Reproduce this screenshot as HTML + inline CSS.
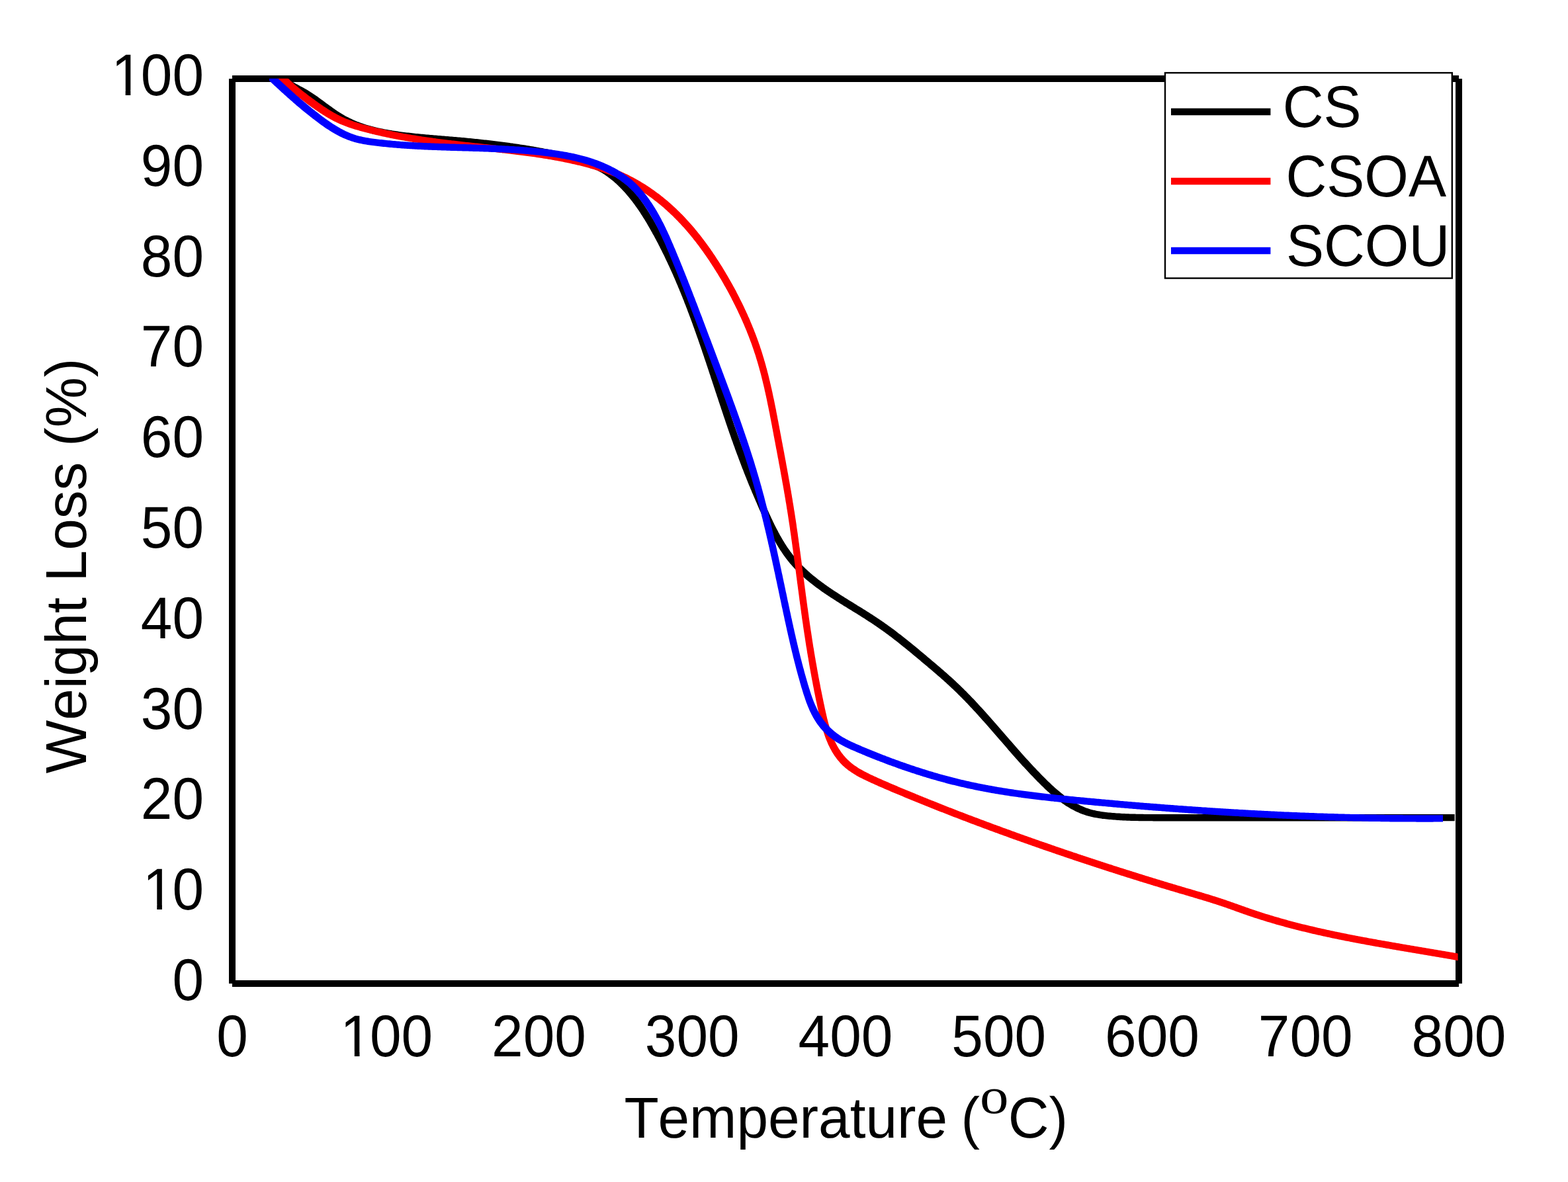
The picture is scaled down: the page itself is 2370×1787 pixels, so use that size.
<!DOCTYPE html>
<html lang="en"><head><meta charset="utf-8"><title>TGA: Weight Loss vs Temperature</title>
<style>html,body{margin:0;padding:0;background:#fff}svg{display:block}</style></head>
<body>
<svg xmlns="http://www.w3.org/2000/svg" width="2370" height="1787" viewBox="0 0 2370 1787" font-family="'Liberation Sans', Arial, Helvetica, sans-serif" fill="#000" style="font-kerning:none;font-variant-ligatures:none;text-rendering:geometricPrecision">
<rect width="2370" height="1787" fill="#fff"/>
<defs><clipPath id="one-end-3"><rect x="-148.82" y="-85.60" width="56.61" height="78.31"/><rect x="-118.34" y="-7.59" width="7.67" height="9.39"/><rect x="-93.71" y="-85.60" width="152.82" height="119.84"/></clipPath><clipPath id="one-end-2"><rect x="-101.21" y="-85.60" width="56.61" height="78.31"/><rect x="-70.74" y="-7.59" width="7.67" height="9.39"/><rect x="-46.11" y="-85.60" width="105.21" height="119.84"/></clipPath><clipPath id="one-middle-3"><rect x="-77.41" y="-85.60" width="56.61" height="78.31"/><rect x="-46.93" y="-7.59" width="7.67" height="9.39"/><rect x="-22.30" y="-85.60" width="152.82" height="119.84"/></clipPath></defs>
<defs><clipPath id="plot"><rect x="351" y="119" width="1854" height="1368"/></clipPath></defs>
<g stroke="#000" stroke-width="10" fill="none" shape-rendering="crispEdges"><line x1="351" y1="119" x2="351" y2="1487"/><line x1="351" y1="1487" x2="2205" y2="1487"/><line x1="2205" y1="119" x2="2205" y2="1487"/><line x1="351" y1="119" x2="2205" y2="119"/></g>
<defs><clipPath id="ck"><rect x="407.0" y="118.8" width="1791.6999999999998" height="1368"/></clipPath><clipPath id="cr"><rect x="407.0" y="118.8" width="1796.6" height="1368"/></clipPath><clipPath id="cb"><rect x="407.0" y="118.8" width="1774.0" height="1368"/></clipPath></defs>
<path clip-path="url(#ck)" fill="#000" d="M415.7,115.9 L417.2,117.7 L418.7,119.3 L420.2,120.9 L421.8,122.4 L423.4,123.9 L425.1,125.3 L426.7,126.6 L428.4,127.9 L430.1,129.1 L431.9,130.3 L433.6,131.4 L435.3,132.5 L437.1,133.6 L438.9,134.6 L440.6,135.7 L442.4,136.6 L444.1,137.6 L445.9,138.6 L447.6,139.5 L449.4,140.5 L451.1,141.4 L452.8,142.4 L454.5,143.3 L456.2,144.3 L457.9,145.3 L459.5,146.3 L461.1,147.3 L462.8,148.3 L464.4,149.4 L466.0,150.5 L467.6,151.6 L469.3,152.7 L470.9,153.8 L472.5,154.9 L474.1,156.1 L475.7,157.2 L477.3,158.4 L478.9,159.6 L480.6,160.8 L482.2,162.0 L483.8,163.2 L485.4,164.4 L487.0,165.6 L488.7,166.8 L490.3,168.0 L492.0,169.2 L493.6,170.4 L495.3,171.5 L496.9,172.7 L498.6,173.9 L500.3,175.0 L502.0,176.2 L503.7,177.3 L505.4,178.4 L507.2,179.5 L508.9,180.6 L510.7,181.7 L512.4,182.7 L514.2,183.7 L516.0,184.7 L517.9,185.7 L519.7,186.6 L521.5,187.6 L523.4,188.4 L525.2,189.3 L527.1,190.2 L528.9,191.0 L530.8,191.8 L532.7,192.6 L534.6,193.3 L536.5,194.1 L538.4,194.8 L540.3,195.5 L542.3,196.1 L544.2,196.8 L546.1,197.4 L548.1,198.0 L550.0,198.6 L552.0,199.2 L553.9,199.8 L555.9,200.3 L557.9,200.9 L559.8,201.4 L561.8,201.9 L563.8,202.4 L565.8,202.8 L567.8,203.3 L569.8,203.7 L571.8,204.2 L573.7,204.6 L575.7,205.0 L577.8,205.4 L579.8,205.8 L581.8,206.1 L583.8,206.5 L585.8,206.8 L587.8,207.2 L589.8,207.5 L591.8,207.8 L593.8,208.1 L595.8,208.4 L597.9,208.7 L599.9,209.0 L601.9,209.3 L603.9,209.5 L605.9,209.8 L607.9,210.0 L609.9,210.3 L611.9,210.5 L613.9,210.8 L616.0,211.0 L618.0,211.2 L620.0,211.5 L622.0,211.7 L624.0,211.9 L626.0,212.1 L628.0,212.3 L630.0,212.5 L632.0,212.7 L634.0,212.9 L636.0,213.1 L638.0,213.2 L640.0,213.4 L642.0,213.6 L644.0,213.8 L646.0,213.9 L648.0,214.1 L650.0,214.3 L652.0,214.5 L654.0,214.6 L656.0,214.8 L657.9,214.9 L659.9,215.1 L661.9,215.3 L663.9,215.4 L665.9,215.6 L667.9,215.8 L669.9,215.9 L671.9,216.1 L673.9,216.3 L675.9,216.4 L677.8,216.6 L679.8,216.8 L681.8,216.9 L683.8,217.1 L685.8,217.3 L687.8,217.4 L689.7,217.6 L691.7,217.8 L693.7,218.0 L695.7,218.1 L697.7,218.3 L699.7,218.5 L701.6,218.7 L703.6,218.9 L705.6,219.1 L707.6,219.3 L709.6,219.5 L711.6,219.7 L713.5,219.9 L715.5,220.1 L717.5,220.3 L719.5,220.5 L721.5,220.7 L723.4,220.9 L725.4,221.1 L727.4,221.3 L729.4,221.5 L731.4,221.8 L733.3,222.0 L735.3,222.2 L737.3,222.4 L739.3,222.7 L741.2,222.9 L743.2,223.1 L745.2,223.4 L747.2,223.6 L749.1,223.9 L751.1,224.1 L753.1,224.4 L755.1,224.6 L757.0,224.9 L759.0,225.1 L761.0,225.4 L763.0,225.7 L764.9,225.9 L766.9,226.2 L768.9,226.5 L770.8,226.7 L772.8,227.0 L774.8,227.3 L776.8,227.6 L778.7,227.9 L780.7,228.2 L782.7,228.5 L784.6,228.8 L786.6,229.1 L788.6,229.4 L790.5,229.7 L792.5,230.0 L794.5,230.3 L796.4,230.7 L798.4,231.0 L800.4,231.3 L802.3,231.7 L804.3,232.0 L806.2,232.3 L808.2,232.7 L810.2,233.0 L812.1,233.4 L814.1,233.7 L816.1,234.1 L818.0,234.5 L820.0,234.8 L821.9,235.2 L823.9,235.6 L825.8,236.0 L827.8,236.4 L829.8,236.8 L831.7,237.2 L833.7,237.6 L835.6,238.0 L837.6,238.4 L839.5,238.8 L841.5,239.2 L843.4,239.6 L845.4,240.0 L847.3,240.5 L849.3,240.9 L851.2,241.4 L853.2,241.8 L855.1,242.3 L857.1,242.7 L859.0,243.2 L861.0,243.6 L862.9,244.1 L864.8,244.6 L866.8,245.1 L868.7,245.6 L870.6,246.1 L872.5,246.6 L874.4,247.1 L876.3,247.7 L878.2,248.2 L880.1,248.8 L881.9,249.4 L883.8,250.0 L885.6,250.6 L887.4,251.2 L889.3,251.9 L891.1,252.6 L892.9,253.3 L894.6,254.0 L896.4,254.7 L898.1,255.5 L899.9,256.3 L901.6,257.1 L903.3,258.0 L904.9,258.8 L906.6,259.7 L908.2,260.6 L909.9,261.6 L911.5,262.5 L913.1,263.6 L914.6,264.6 L916.2,265.7 L917.8,266.7 L919.3,267.9 L920.8,269.0 L922.3,270.2 L923.8,271.4 L925.3,272.6 L926.8,273.8 L928.3,275.1 L929.7,276.4 L931.2,277.6 L932.6,279.0 L934.0,280.3 L935.4,281.7 L936.8,283.0 L938.1,284.4 L939.5,285.8 L940.8,287.2 L942.2,288.7 L943.5,290.1 L944.8,291.5 L946.1,293.0 L947.3,294.5 L948.6,296.0 L949.9,297.5 L951.1,299.0 L952.3,300.5 L953.5,302.0 L954.7,303.5 L955.9,305.1 L957.1,306.7 L958.3,308.2 L959.4,309.8 L960.6,311.4 L961.7,313.0 L962.8,314.6 L964.0,316.2 L965.1,317.8 L966.2,319.5 L967.3,321.1 L968.3,322.7 L969.4,324.4 L970.5,326.0 L971.5,327.7 L972.6,329.4 L973.6,331.1 L974.7,332.8 L975.7,334.4 L976.7,336.1 L977.7,337.8 L978.7,339.6 L979.7,341.3 L980.7,343.0 L981.7,344.7 L982.7,346.4 L983.7,348.2 L984.6,349.9 L985.6,351.6 L986.5,353.4 L987.5,355.1 L988.5,356.8 L989.4,358.6 L990.3,360.3 L991.3,362.1 L992.2,363.8 L993.1,365.6 L994.1,367.3 L995.0,369.1 L995.9,370.9 L996.8,372.6 L997.7,374.4 L998.6,376.2 L999.5,377.9 L1000.4,379.7 L1001.2,381.5 L1002.1,383.3 L1003.0,385.0 L1003.9,386.8 L1004.7,388.6 L1005.6,390.4 L1006.4,392.2 L1007.3,394.0 L1008.1,395.8 L1009.0,397.6 L1009.8,399.4 L1010.7,401.2 L1011.5,403.0 L1012.3,404.8 L1013.1,406.6 L1014.0,408.4 L1014.8,410.2 L1015.6,412.0 L1016.4,413.8 L1017.2,415.6 L1018.0,417.4 L1018.8,419.3 L1019.6,421.1 L1020.4,422.9 L1021.2,424.7 L1021.9,426.6 L1022.7,428.4 L1023.5,430.2 L1024.3,432.0 L1025.0,433.9 L1025.8,435.7 L1026.6,437.6 L1027.3,439.4 L1028.1,441.2 L1028.8,443.1 L1029.6,444.9 L1030.3,446.8 L1031.1,448.6 L1031.8,450.4 L1032.5,452.3 L1033.3,454.1 L1034.0,456.0 L1034.7,457.9 L1035.4,459.7 L1036.2,461.6 L1036.9,463.4 L1037.6,465.3 L1038.3,467.1 L1039.0,469.0 L1039.7,470.9 L1040.4,472.7 L1041.1,474.6 L1041.8,476.5 L1042.5,478.3 L1043.2,480.2 L1043.9,482.1 L1044.6,483.9 L1045.3,485.8 L1046.0,487.7 L1046.7,489.6 L1047.3,491.4 L1048.0,493.3 L1048.7,495.2 L1049.4,497.1 L1050.0,498.9 L1050.7,500.8 L1051.4,502.7 L1052.0,504.6 L1052.7,506.5 L1053.4,508.4 L1054.0,510.2 L1054.7,512.1 L1055.4,514.0 L1056.0,515.9 L1056.7,517.8 L1057.3,519.7 L1058.0,521.6 L1058.6,523.5 L1059.3,525.3 L1059.9,527.2 L1060.6,529.1 L1061.2,531.0 L1061.8,532.9 L1062.5,534.8 L1063.1,536.7 L1063.8,538.6 L1064.4,540.5 L1065.0,542.4 L1065.7,544.3 L1066.3,546.2 L1067.0,548.1 L1067.6,550.0 L1068.2,551.9 L1068.9,553.8 L1069.5,555.7 L1070.1,557.6 L1070.8,559.5 L1071.4,561.4 L1072.0,563.3 L1072.6,565.2 L1073.3,567.1 L1073.9,569.0 L1074.5,570.9 L1075.1,572.8 L1075.8,574.7 L1076.4,576.6 L1077.0,578.5 L1077.7,580.4 L1078.3,582.3 L1078.9,584.2 L1079.5,586.1 L1080.2,588.0 L1080.8,589.9 L1081.4,591.8 L1082.0,593.7 L1082.7,595.6 L1083.3,597.5 L1083.9,599.4 L1084.6,601.3 L1085.2,603.2 L1085.8,605.1 L1086.4,607.0 L1087.1,608.9 L1087.7,610.8 L1088.3,612.7 L1089.0,614.6 L1089.6,616.5 L1090.2,618.4 L1090.9,620.3 L1091.5,622.2 L1092.1,624.1 L1092.8,626.0 L1093.4,627.9 L1094.0,629.8 L1094.7,631.7 L1095.3,633.6 L1096.0,635.5 L1096.6,637.4 L1097.2,639.3 L1097.9,641.2 L1098.5,643.1 L1099.2,645.0 L1099.8,646.9 L1100.5,648.8 L1101.1,650.7 L1101.8,652.5 L1102.4,654.4 L1103.1,656.3 L1103.8,658.2 L1104.4,660.1 L1105.1,662.0 L1105.7,663.9 L1106.4,665.7 L1107.1,667.6 L1107.8,669.5 L1108.4,671.4 L1109.1,673.3 L1109.8,675.1 L1110.5,677.0 L1111.1,678.9 L1111.8,680.8 L1112.5,682.7 L1113.2,684.5 L1113.9,686.4 L1114.6,688.3 L1115.3,690.1 L1116.0,692.0 L1116.7,693.9 L1117.4,695.7 L1118.1,697.6 L1118.8,699.5 L1119.5,701.3 L1120.2,703.2 L1120.9,705.1 L1121.6,706.9 L1122.3,708.8 L1123.1,710.6 L1123.8,712.5 L1124.5,714.3 L1125.2,716.2 L1126.0,718.0 L1126.7,719.9 L1127.5,721.7 L1128.2,723.6 L1128.9,725.5 L1129.7,727.3 L1130.4,729.2 L1131.2,731.0 L1131.9,732.9 L1132.7,734.7 L1133.5,736.6 L1134.2,738.4 L1135.0,740.3 L1135.8,742.1 L1136.5,743.9 L1137.3,745.8 L1138.1,747.6 L1138.9,749.5 L1139.7,751.3 L1140.5,753.2 L1141.3,755.0 L1142.1,756.9 L1142.9,758.7 L1143.7,760.6 L1144.5,762.5 L1145.3,764.3 L1146.1,766.2 L1146.9,768.0 L1147.7,769.9 L1148.5,771.7 L1149.4,773.6 L1150.2,775.4 L1151.0,777.3 L1151.9,779.2 L1152.7,781.0 L1153.6,782.9 L1154.4,784.8 L1155.3,786.6 L1156.1,788.5 L1157.0,790.3 L1157.9,792.2 L1158.8,794.1 L1159.7,795.9 L1160.6,797.8 L1161.5,799.6 L1162.4,801.5 L1163.3,803.3 L1164.2,805.1 L1165.2,807.0 L1166.1,808.8 L1167.1,810.6 L1168.1,812.4 L1169.0,814.3 L1170.0,816.1 L1171.0,817.9 L1172.0,819.6 L1173.1,821.4 L1174.1,823.2 L1175.2,825.0 L1176.2,826.7 L1177.3,828.5 L1178.4,830.2 L1179.5,831.9 L1180.6,833.6 L1181.8,835.3 L1182.9,837.0 L1184.1,838.7 L1185.3,840.4 L1186.5,842.0 L1187.7,843.7 L1188.9,845.3 L1190.2,846.9 L1191.4,848.5 L1192.7,850.1 L1194.0,851.7 L1195.4,853.2 L1196.7,854.7 L1198.0,856.2 L1199.4,857.7 L1200.8,859.2 L1202.2,860.7 L1203.6,862.1 L1205.0,863.6 L1206.4,865.0 L1207.9,866.4 L1209.4,867.8 L1210.8,869.2 L1212.3,870.6 L1213.8,871.9 L1215.3,873.2 L1216.8,874.6 L1218.4,875.9 L1219.9,877.2 L1221.5,878.5 L1223.0,879.8 L1224.6,881.0 L1226.2,882.3 L1227.8,883.5 L1229.4,884.8 L1231.0,886.0 L1232.6,887.2 L1234.2,888.4 L1235.8,889.6 L1237.5,890.8 L1239.1,892.0 L1240.8,893.2 L1242.4,894.4 L1244.1,895.5 L1245.7,896.7 L1247.4,897.8 L1249.1,898.9 L1250.8,900.1 L1252.5,901.2 L1254.2,902.3 L1255.9,903.4 L1257.6,904.5 L1259.3,905.6 L1261.0,906.7 L1262.7,907.8 L1264.4,908.9 L1266.1,910.0 L1267.8,911.1 L1269.5,912.2 L1271.3,913.3 L1273.0,914.3 L1274.7,915.4 L1276.4,916.5 L1278.2,917.5 L1279.9,918.6 L1281.6,919.7 L1283.3,920.7 L1285.0,921.8 L1286.8,922.8 L1288.5,923.9 L1290.2,925.0 L1291.9,926.0 L1293.6,927.1 L1295.4,928.1 L1297.1,929.2 L1298.8,930.3 L1300.5,931.3 L1302.2,932.4 L1303.9,933.5 L1305.6,934.5 L1307.3,935.6 L1308.9,936.7 L1310.6,937.8 L1312.3,938.9 L1314.0,939.9 L1315.6,941.0 L1317.3,942.1 L1318.9,943.2 L1320.6,944.3 L1322.2,945.4 L1323.9,946.5 L1325.5,947.7 L1327.1,948.8 L1328.7,949.9 L1330.3,951.0 L1331.9,952.2 L1333.5,953.3 L1335.1,954.5 L1336.7,955.6 L1338.3,956.8 L1339.9,957.9 L1341.5,959.1 L1343.1,960.3 L1344.6,961.5 L1346.2,962.6 L1347.8,963.8 L1349.3,965.0 L1350.9,966.2 L1352.4,967.4 L1354.0,968.6 L1355.5,969.8 L1357.1,971.0 L1358.6,972.3 L1360.2,973.5 L1361.7,974.7 L1363.2,975.9 L1364.8,977.2 L1366.3,978.4 L1367.9,979.6 L1369.4,980.9 L1370.9,982.1 L1372.4,983.4 L1374.0,984.6 L1375.5,985.9 L1377.0,987.1 L1378.6,988.4 L1380.1,989.7 L1381.6,990.9 L1383.1,992.2 L1384.7,993.5 L1386.2,994.7 L1387.7,996.0 L1389.2,997.3 L1390.8,998.6 L1392.3,999.9 L1393.8,1001.2 L1395.3,1002.4 L1396.9,1003.7 L1398.4,1005.0 L1399.9,1006.3 L1401.5,1007.6 L1403.0,1008.9 L1404.5,1010.2 L1406.1,1011.5 L1407.6,1012.8 L1409.1,1014.1 L1410.7,1015.4 L1412.2,1016.7 L1413.7,1018.0 L1415.2,1019.3 L1416.7,1020.7 L1418.3,1022.0 L1419.8,1023.3 L1421.3,1024.6 L1422.8,1025.9 L1424.3,1027.3 L1425.8,1028.6 L1427.3,1029.9 L1428.8,1031.3 L1430.2,1032.6 L1431.7,1034.0 L1433.2,1035.3 L1434.7,1036.7 L1436.1,1038.0 L1437.6,1039.4 L1439.0,1040.7 L1440.5,1042.1 L1441.9,1043.5 L1443.3,1044.8 L1444.8,1046.2 L1446.2,1047.6 L1447.6,1049.0 L1449.0,1050.4 L1450.4,1051.8 L1451.8,1053.2 L1453.2,1054.6 L1454.6,1056.0 L1456.0,1057.4 L1457.4,1058.8 L1458.8,1060.3 L1460.1,1061.7 L1461.5,1063.1 L1462.9,1064.5 L1464.2,1066.0 L1465.6,1067.4 L1466.9,1068.9 L1468.3,1070.3 L1469.6,1071.8 L1471.0,1073.2 L1472.3,1074.7 L1473.7,1076.1 L1475.0,1077.6 L1476.3,1079.0 L1477.7,1080.5 L1479.0,1082.0 L1480.3,1083.5 L1481.7,1084.9 L1483.0,1086.4 L1484.3,1087.9 L1485.6,1089.4 L1486.9,1090.8 L1488.2,1092.3 L1489.6,1093.8 L1490.9,1095.3 L1492.2,1096.8 L1493.5,1098.3 L1494.8,1099.8 L1496.1,1101.3 L1497.4,1102.8 L1498.7,1104.3 L1500.0,1105.8 L1501.3,1107.3 L1502.6,1108.8 L1503.9,1110.3 L1505.2,1111.8 L1506.5,1113.3 L1507.8,1114.8 L1509.1,1116.3 L1510.4,1117.8 L1511.7,1119.3 L1513.1,1120.8 L1514.4,1122.3 L1515.7,1123.8 L1517.0,1125.3 L1518.3,1126.8 L1519.6,1128.3 L1520.9,1129.8 L1522.2,1131.3 L1523.5,1132.9 L1524.8,1134.4 L1526.2,1135.9 L1527.5,1137.4 L1528.8,1138.9 L1530.1,1140.4 L1531.4,1141.9 L1532.8,1143.4 L1534.1,1144.9 L1535.4,1146.4 L1536.8,1147.9 L1538.1,1149.4 L1539.4,1150.9 L1540.8,1152.4 L1542.1,1153.9 L1543.5,1155.4 L1544.8,1156.9 L1546.2,1158.4 L1547.6,1159.8 L1548.9,1161.3 L1550.3,1162.8 L1551.7,1164.3 L1553.1,1165.8 L1554.4,1167.3 L1555.8,1168.7 L1557.2,1170.2 L1558.6,1171.7 L1560.0,1173.1 L1561.4,1174.6 L1562.8,1176.1 L1564.2,1177.5 L1565.7,1179.0 L1567.1,1180.4 L1568.5,1181.9 L1570.0,1183.3 L1571.4,1184.8 L1572.9,1186.2 L1574.3,1187.7 L1575.8,1189.1 L1577.3,1190.5 L1578.7,1192.0 L1580.2,1193.4 L1581.7,1194.8 L1583.2,1196.2 L1584.8,1197.6 L1586.3,1198.9 L1587.8,1200.3 L1589.4,1201.7 L1590.9,1203.0 L1592.5,1204.3 L1594.1,1205.7 L1595.7,1207.0 L1597.3,1208.2 L1598.9,1209.5 L1600.6,1210.8 L1602.2,1212.0 L1603.9,1213.2 L1605.5,1214.4 L1607.2,1215.6 L1608.9,1216.7 L1610.6,1217.9 L1612.3,1219.0 L1614.1,1220.1 L1615.8,1221.1 L1617.6,1222.2 L1619.4,1223.2 L1621.2,1224.1 L1623.0,1225.1 L1624.8,1226.0 L1626.7,1226.9 L1628.6,1227.8 L1630.4,1228.6 L1632.3,1229.4 L1634.3,1230.2 L1636.2,1230.9 L1638.1,1231.6 L1640.1,1232.2 L1642.1,1232.9 L1644.1,1233.5 L1646.1,1234.0 L1648.1,1234.5 L1650.1,1235.0 L1652.2,1235.5 L1654.2,1235.9 L1656.3,1236.3 L1658.3,1236.6 L1660.4,1237.0 L1662.4,1237.3 L1664.5,1237.6 L1666.5,1237.9 L1668.6,1238.1 L1670.7,1238.3 L1672.7,1238.6 L1674.8,1238.8 L1676.8,1239.0 L1678.9,1239.1 L1680.9,1239.3 L1683.0,1239.5 L1685.0,1239.6 L1687.1,1239.8 L1689.1,1239.9 L1691.1,1240.0 L1693.2,1240.2 L1695.2,1240.3 L1697.2,1240.4 L1699.3,1240.5 L1701.3,1240.6 L1703.3,1240.7 L1705.3,1240.7 L1707.3,1240.8 L1709.4,1240.9 L1711.4,1240.9 L1713.4,1241.0 L1715.4,1241.0 L1717.4,1241.1 L1719.4,1241.1 L1721.4,1241.2 L1723.4,1241.2 L1725.5,1241.2 L1727.5,1241.2 L1729.5,1241.3 L1731.5,1241.3 L1733.5,1241.3 L1735.5,1241.3 L1737.5,1241.3 L1739.5,1241.3 L1741.5,1241.3 L1743.5,1241.4 L1745.5,1241.4 L1747.5,1241.4 L1749.4,1241.4 L1751.4,1241.4 L1753.4,1241.4 L1755.4,1241.4 L1757.4,1241.4 L1759.4,1241.4 L1761.4,1241.4 L1763.4,1241.4 L1765.4,1241.4 L1767.4,1241.4 L1769.4,1241.4 L1771.4,1241.4 L1773.4,1241.4 L1775.4,1241.4 L1777.4,1241.4 L1779.4,1241.4 L1781.4,1241.4 L1783.4,1241.4 L1785.4,1241.4 L1787.4,1241.4 L1789.3,1241.4 L1791.3,1241.4 L1793.3,1241.4 L1795.3,1241.4 L1797.3,1241.4 L1799.3,1241.4 L1801.3,1241.4 L1803.3,1241.4 L1805.3,1241.4 L1807.3,1241.4 L1809.3,1241.4 L1811.3,1241.4 L1813.3,1241.4 L1815.3,1241.4 L1817.3,1241.4 L1819.3,1241.4 L1821.3,1241.4 L1823.3,1241.4 L1825.3,1241.4 L1827.3,1241.4 L1829.3,1241.4 L1831.3,1241.4 L1833.3,1241.4 L1835.3,1241.4 L1837.3,1241.4 L1839.3,1241.5 L1841.3,1241.5 L1843.3,1241.5 L1845.3,1241.5 L1847.3,1241.5 L1849.3,1241.5 L1851.3,1241.5 L1853.3,1241.5 L1855.3,1241.5 L1857.3,1241.5 L1859.3,1241.5 L1861.3,1241.5 L1863.3,1241.5 L1865.3,1241.5 L1867.3,1241.5 L1869.3,1241.5 L1871.3,1241.5 L1873.3,1241.5 L1875.3,1241.5 L1877.3,1241.5 L1879.3,1241.5 L1881.3,1241.5 L1883.3,1241.5 L1885.3,1241.5 L1887.3,1241.5 L1889.3,1241.5 L1891.3,1241.5 L1893.3,1241.5 L1895.3,1241.5 L1897.3,1241.5 L1899.3,1241.5 L1901.3,1241.5 L1903.3,1241.5 L1905.3,1241.5 L1907.3,1241.5 L1909.3,1241.5 L1911.3,1241.5 L1913.3,1241.5 L1915.3,1241.5 L1917.3,1241.5 L1919.3,1241.5 L1921.3,1241.5 L1923.3,1241.5 L1925.3,1241.5 L1927.3,1241.5 L1929.3,1241.5 L1931.3,1241.5 L1933.3,1241.5 L1935.3,1241.5 L1937.3,1241.5 L1939.3,1241.5 L1941.3,1241.5 L1943.3,1241.5 L1945.3,1241.5 L1947.3,1241.5 L1949.3,1241.5 L1951.3,1241.5 L1953.3,1241.5 L1955.3,1241.5 L1957.3,1241.5 L1959.3,1241.5 L1961.3,1241.5 L1963.3,1241.5 L1965.3,1241.5 L1967.3,1241.5 L1969.3,1241.5 L1971.3,1241.5 L1973.3,1241.5 L1975.3,1241.5 L1977.3,1241.5 L1979.3,1241.5 L1981.3,1241.5 L1983.3,1241.5 L1985.3,1241.5 L1987.3,1241.5 L1989.3,1241.5 L1991.3,1241.5 L1993.3,1241.5 L1995.3,1241.5 L1997.3,1241.5 L1999.3,1241.5 L2001.3,1241.5 L2003.3,1241.5 L2005.3,1241.5 L2007.3,1241.5 L2009.3,1241.5 L2011.3,1241.5 L2013.3,1241.5 L2015.3,1241.5 L2017.3,1241.5 L2019.3,1241.5 L2021.4,1241.5 L2023.4,1241.5 L2025.4,1241.5 L2027.4,1241.5 L2029.4,1241.5 L2031.4,1241.5 L2033.4,1241.5 L2035.4,1241.5 L2037.4,1241.5 L2039.4,1241.5 L2041.4,1241.5 L2043.4,1241.5 L2045.4,1241.5 L2047.4,1241.5 L2049.4,1241.5 L2051.4,1241.5 L2053.4,1241.5 L2055.4,1241.5 L2057.4,1241.5 L2059.4,1241.5 L2061.4,1241.5 L2063.4,1241.5 L2065.4,1241.5 L2067.4,1241.5 L2069.4,1241.5 L2071.4,1241.5 L2073.4,1241.5 L2075.4,1241.5 L2077.4,1241.5 L2079.4,1241.4 L2081.4,1241.4 L2083.4,1241.4 L2085.4,1241.4 L2087.4,1241.4 L2089.4,1241.4 L2091.4,1241.4 L2093.4,1241.4 L2095.4,1241.4 L2097.4,1241.4 L2099.4,1241.4 L2101.4,1241.4 L2103.4,1241.4 L2105.4,1241.4 L2107.4,1241.4 L2109.4,1241.4 L2111.4,1241.4 L2113.4,1241.4 L2115.4,1241.4 L2117.4,1241.4 L2119.4,1241.4 L2121.4,1241.4 L2123.4,1241.4 L2125.4,1241.4 L2127.4,1241.4 L2129.4,1241.4 L2131.4,1241.4 L2133.4,1241.4 L2135.4,1241.4 L2137.4,1241.4 L2139.4,1241.4 L2141.4,1241.4 L2143.4,1241.4 L2145.4,1241.4 L2147.4,1241.4 L2149.4,1241.4 L2151.4,1241.4 L2153.4,1241.4 L2155.4,1241.4 L2157.4,1241.4 L2159.4,1241.4 L2161.4,1241.4 L2163.4,1241.4 L2165.4,1241.4 L2167.4,1241.3 L2169.4,1241.3 L2171.4,1241.3 L2173.4,1241.3 L2175.4,1241.3 L2177.4,1241.3 L2179.4,1241.3 L2181.4,1241.3 L2183.4,1241.3 L2185.4,1241.3 L2187.4,1241.3 L2189.4,1241.3 L2191.4,1241.3 L2193.3,1241.3 L2195.3,1241.3 L2197.3,1241.3 L2199.3,1241.3 L2201.3,1241.3 L2203.3,1241.3 L2205.3,1241.3 L2206.0,1241.3 L2206.0,1230.9 L2205.3,1230.9 L2203.3,1230.9 L2201.3,1230.9 L2199.3,1230.9 L2197.3,1230.9 L2195.3,1230.9 L2193.3,1230.9 L2191.3,1230.9 L2189.3,1230.9 L2187.3,1230.9 L2185.3,1230.9 L2183.3,1230.9 L2181.3,1230.9 L2179.4,1230.9 L2177.4,1230.9 L2175.4,1230.9 L2173.4,1230.9 L2171.4,1230.9 L2169.4,1230.9 L2167.4,1230.9 L2165.4,1231.0 L2163.4,1231.0 L2161.4,1231.0 L2159.4,1231.0 L2157.4,1231.0 L2155.4,1231.0 L2153.4,1231.0 L2151.4,1231.0 L2149.4,1231.0 L2147.4,1231.0 L2145.4,1231.0 L2143.4,1231.0 L2141.4,1231.0 L2139.4,1231.0 L2137.4,1231.0 L2135.4,1231.0 L2133.4,1231.0 L2131.4,1231.0 L2129.4,1231.0 L2127.4,1231.0 L2125.4,1231.0 L2123.4,1231.0 L2121.4,1231.0 L2119.4,1231.0 L2117.4,1231.0 L2115.4,1231.0 L2113.4,1231.0 L2111.4,1231.0 L2109.4,1231.0 L2107.4,1231.0 L2105.4,1231.0 L2103.4,1231.0 L2101.4,1231.0 L2099.4,1231.0 L2097.4,1231.0 L2095.4,1231.0 L2093.4,1231.0 L2091.4,1231.0 L2089.4,1231.0 L2087.4,1231.0 L2085.4,1231.0 L2083.4,1231.0 L2081.4,1231.0 L2079.4,1231.0 L2077.4,1231.1 L2075.4,1231.1 L2073.4,1231.1 L2071.4,1231.1 L2069.4,1231.1 L2067.4,1231.1 L2065.4,1231.1 L2063.4,1231.1 L2061.4,1231.1 L2059.4,1231.1 L2057.4,1231.1 L2055.4,1231.1 L2053.4,1231.1 L2051.4,1231.1 L2049.4,1231.1 L2047.4,1231.1 L2045.4,1231.1 L2043.4,1231.1 L2041.4,1231.1 L2039.4,1231.1 L2037.4,1231.1 L2035.4,1231.1 L2033.4,1231.1 L2031.4,1231.1 L2029.4,1231.1 L2027.4,1231.1 L2025.3,1231.1 L2023.3,1231.1 L2021.3,1231.1 L2019.3,1231.1 L2017.3,1231.1 L2015.3,1231.1 L2013.3,1231.1 L2011.3,1231.1 L2009.3,1231.1 L2007.3,1231.1 L2005.3,1231.1 L2003.3,1231.1 L2001.3,1231.1 L1999.3,1231.1 L1997.3,1231.1 L1995.3,1231.1 L1993.3,1231.1 L1991.3,1231.1 L1989.3,1231.1 L1987.3,1231.1 L1985.3,1231.1 L1983.3,1231.1 L1981.3,1231.1 L1979.3,1231.1 L1977.3,1231.1 L1975.3,1231.1 L1973.3,1231.1 L1971.3,1231.1 L1969.3,1231.1 L1967.3,1231.1 L1965.3,1231.1 L1963.3,1231.1 L1961.3,1231.1 L1959.3,1231.1 L1957.3,1231.1 L1955.3,1231.1 L1953.3,1231.1 L1951.3,1231.1 L1949.3,1231.1 L1947.3,1231.1 L1945.3,1231.1 L1943.3,1231.1 L1941.3,1231.1 L1939.3,1231.1 L1937.3,1231.1 L1935.3,1231.1 L1933.3,1231.1 L1931.3,1231.1 L1929.3,1231.1 L1927.3,1231.1 L1925.3,1231.1 L1923.3,1231.1 L1921.3,1231.1 L1919.3,1231.1 L1917.3,1231.1 L1915.3,1231.1 L1913.3,1231.1 L1911.3,1231.1 L1909.3,1231.1 L1907.3,1231.1 L1905.3,1231.1 L1903.3,1231.1 L1901.3,1231.1 L1899.3,1231.1 L1897.3,1231.1 L1895.3,1231.1 L1893.3,1231.1 L1891.3,1231.1 L1889.3,1231.1 L1887.3,1231.1 L1885.3,1231.1 L1883.3,1231.1 L1881.3,1231.1 L1879.3,1231.1 L1877.3,1231.1 L1875.3,1231.1 L1873.3,1231.1 L1871.3,1231.1 L1869.3,1231.1 L1867.3,1231.1 L1865.3,1231.1 L1863.3,1231.1 L1861.3,1231.1 L1859.3,1231.1 L1857.3,1231.1 L1855.3,1231.1 L1853.3,1231.1 L1851.3,1231.1 L1849.3,1231.1 L1847.3,1231.1 L1845.3,1231.1 L1843.3,1231.1 L1841.3,1231.1 L1839.3,1231.1 L1837.3,1231.0 L1835.3,1231.0 L1833.3,1231.0 L1831.3,1231.0 L1829.3,1231.0 L1827.3,1231.0 L1825.3,1231.0 L1823.3,1231.0 L1821.3,1231.0 L1819.3,1231.0 L1817.3,1231.0 L1815.3,1231.0 L1813.3,1231.0 L1811.3,1231.0 L1809.3,1231.0 L1807.3,1231.0 L1805.3,1231.0 L1803.3,1231.0 L1801.3,1231.0 L1799.3,1231.0 L1797.3,1231.0 L1795.3,1231.0 L1793.3,1231.0 L1791.4,1231.0 L1789.4,1231.0 L1787.4,1231.0 L1785.4,1231.0 L1783.4,1231.0 L1781.4,1231.0 L1779.4,1231.0 L1777.4,1231.0 L1775.4,1231.0 L1773.4,1231.0 L1771.4,1231.0 L1769.4,1231.0 L1767.4,1231.0 L1765.4,1231.0 L1763.4,1231.0 L1761.4,1231.0 L1759.4,1231.0 L1757.4,1231.0 L1755.4,1231.0 L1753.5,1231.0 L1751.5,1231.0 L1749.5,1231.0 L1747.5,1231.0 L1745.5,1231.0 L1743.5,1231.0 L1741.5,1230.9 L1739.5,1230.9 L1737.5,1230.9 L1735.5,1230.9 L1733.5,1230.9 L1731.6,1230.9 L1729.6,1230.9 L1727.6,1230.8 L1725.6,1230.8 L1723.6,1230.8 L1721.6,1230.8 L1719.6,1230.7 L1717.6,1230.7 L1715.7,1230.6 L1713.7,1230.6 L1711.7,1230.5 L1709.7,1230.5 L1707.7,1230.4 L1705.7,1230.3 L1703.7,1230.3 L1701.7,1230.2 L1699.7,1230.1 L1697.8,1230.0 L1695.8,1229.9 L1693.8,1229.8 L1691.8,1229.6 L1689.8,1229.5 L1687.8,1229.4 L1685.8,1229.2 L1683.8,1229.1 L1681.8,1228.9 L1679.8,1228.8 L1677.8,1228.6 L1675.8,1228.4 L1673.8,1228.2 L1671.8,1228.0 L1669.9,1227.7 L1667.9,1227.5 L1665.9,1227.2 L1664.0,1226.9 L1662.1,1226.6 L1660.1,1226.3 L1658.2,1225.9 L1656.3,1225.5 L1654.5,1225.1 L1652.6,1224.7 L1650.7,1224.2 L1648.9,1223.7 L1647.1,1223.2 L1645.3,1222.6 L1643.5,1222.0 L1641.8,1221.4 L1640.0,1220.7 L1638.3,1220.0 L1636.6,1219.3 L1634.9,1218.5 L1633.2,1217.7 L1631.5,1216.9 L1629.8,1216.1 L1628.2,1215.2 L1626.5,1214.3 L1624.9,1213.4 L1623.3,1212.5 L1621.6,1211.5 L1620.0,1210.5 L1618.4,1209.5 L1616.8,1208.4 L1615.3,1207.3 L1613.7,1206.3 L1612.1,1205.1 L1610.6,1204.0 L1609.0,1202.9 L1607.5,1201.7 L1606.0,1200.5 L1604.4,1199.3 L1602.9,1198.1 L1601.4,1196.8 L1599.9,1195.6 L1598.4,1194.3 L1596.9,1193.0 L1595.4,1191.7 L1594.0,1190.4 L1592.5,1189.1 L1591.0,1187.7 L1589.6,1186.4 L1588.1,1185.0 L1586.7,1183.6 L1585.2,1182.3 L1583.8,1180.9 L1582.4,1179.5 L1580.9,1178.1 L1579.5,1176.6 L1578.1,1175.2 L1576.7,1173.8 L1575.3,1172.4 L1573.9,1170.9 L1572.5,1169.5 L1571.1,1168.1 L1569.7,1166.6 L1568.3,1165.2 L1566.9,1163.7 L1565.6,1162.3 L1564.2,1160.8 L1562.8,1159.4 L1561.5,1157.9 L1560.1,1156.5 L1558.7,1155.0 L1557.4,1153.5 L1556.0,1152.1 L1554.7,1150.6 L1553.3,1149.1 L1552.0,1147.7 L1550.7,1146.2 L1549.3,1144.7 L1548.0,1143.2 L1546.7,1141.7 L1545.3,1140.2 L1544.0,1138.8 L1542.7,1137.3 L1541.4,1135.8 L1540.1,1134.3 L1538.7,1132.8 L1537.4,1131.3 L1536.1,1129.8 L1534.8,1128.3 L1533.5,1126.8 L1532.2,1125.3 L1530.9,1123.8 L1529.6,1122.3 L1528.3,1120.8 L1526.9,1119.3 L1525.6,1117.8 L1524.3,1116.3 L1523.0,1114.8 L1521.7,1113.3 L1520.4,1111.8 L1519.1,1110.3 L1517.8,1108.8 L1516.5,1107.3 L1515.2,1105.8 L1513.9,1104.2 L1512.6,1102.7 L1511.3,1101.2 L1510.0,1099.7 L1508.7,1098.2 L1507.4,1096.7 L1506.1,1095.2 L1504.8,1093.7 L1503.4,1092.2 L1502.1,1090.7 L1500.8,1089.2 L1499.5,1087.7 L1498.2,1086.2 L1496.9,1084.7 L1495.5,1083.2 L1494.2,1081.7 L1492.9,1080.2 L1491.5,1078.7 L1490.2,1077.3 L1488.9,1075.8 L1487.5,1074.3 L1486.2,1072.8 L1484.8,1071.3 L1483.5,1069.8 L1482.1,1068.4 L1480.8,1066.9 L1479.4,1065.4 L1478.1,1063.9 L1476.7,1062.5 L1475.3,1061.0 L1474.0,1059.5 L1472.6,1058.1 L1471.2,1056.6 L1469.8,1055.2 L1468.4,1053.7 L1467.0,1052.3 L1465.6,1050.8 L1464.2,1049.4 L1462.8,1047.9 L1461.4,1046.5 L1460.0,1045.1 L1458.5,1043.7 L1457.1,1042.2 L1455.7,1040.8 L1454.2,1039.4 L1452.8,1038.0 L1451.3,1036.6 L1449.9,1035.2 L1448.4,1033.8 L1446.9,1032.4 L1445.4,1031.0 L1443.9,1029.6 L1442.5,1028.2 L1441.0,1026.8 L1439.5,1025.5 L1438.0,1024.1 L1436.4,1022.7 L1434.9,1021.4 L1433.4,1020.0 L1431.9,1018.7 L1430.4,1017.3 L1428.8,1016.0 L1427.3,1014.7 L1425.8,1013.3 L1424.3,1012.0 L1422.7,1010.7 L1421.2,1009.3 L1419.7,1008.0 L1418.1,1006.7 L1416.6,1005.4 L1415.0,1004.1 L1413.5,1002.8 L1412.0,1001.5 L1410.4,1000.2 L1408.9,998.9 L1407.3,997.6 L1405.8,996.3 L1404.3,995.0 L1402.7,993.7 L1401.2,992.4 L1399.7,991.1 L1398.1,989.8 L1396.6,988.5 L1395.1,987.2 L1393.5,985.9 L1392.0,984.7 L1390.5,983.4 L1388.9,982.1 L1387.4,980.8 L1385.9,979.6 L1384.3,978.3 L1382.8,977.0 L1381.2,975.8 L1379.7,974.5 L1378.2,973.2 L1376.6,972.0 L1375.1,970.7 L1373.5,969.5 L1372.0,968.2 L1370.4,967.0 L1368.8,965.7 L1367.3,964.5 L1365.7,963.3 L1364.1,962.0 L1362.6,960.8 L1361.0,959.6 L1359.4,958.4 L1357.8,957.2 L1356.3,955.9 L1354.7,954.7 L1353.1,953.5 L1351.5,952.3 L1349.9,951.1 L1348.3,949.9 L1346.7,948.8 L1345.0,947.6 L1343.4,946.4 L1341.8,945.2 L1340.2,944.1 L1338.5,942.9 L1336.9,941.7 L1335.2,940.6 L1333.6,939.4 L1331.9,938.3 L1330.3,937.2 L1328.6,936.0 L1326.9,934.9 L1325.2,933.8 L1323.5,932.7 L1321.8,931.6 L1320.1,930.4 L1318.4,929.3 L1316.7,928.3 L1315.0,927.2 L1313.3,926.1 L1311.6,925.0 L1309.9,923.9 L1308.2,922.8 L1306.5,921.8 L1304.7,920.7 L1303.0,919.6 L1301.3,918.6 L1299.6,917.5 L1297.9,916.4 L1296.1,915.4 L1294.4,914.3 L1292.7,913.2 L1291.0,912.2 L1289.2,911.1 L1287.5,910.1 L1285.8,909.0 L1284.1,907.9 L1282.4,906.9 L1280.7,905.8 L1279.0,904.8 L1277.2,903.7 L1275.5,902.6 L1273.8,901.5 L1272.2,900.5 L1270.5,899.4 L1268.8,898.3 L1267.1,897.2 L1265.4,896.1 L1263.7,895.1 L1262.1,894.0 L1260.4,892.9 L1258.8,891.8 L1257.1,890.7 L1255.5,889.5 L1253.8,888.4 L1252.2,887.3 L1250.6,886.2 L1249.0,885.0 L1247.4,883.9 L1245.8,882.8 L1244.2,881.6 L1242.6,880.4 L1241.0,879.3 L1239.4,878.1 L1237.9,876.9 L1236.3,875.7 L1234.8,874.5 L1233.3,873.3 L1231.8,872.1 L1230.3,870.9 L1228.8,869.7 L1227.3,868.4 L1225.8,867.2 L1224.4,865.9 L1222.9,864.6 L1221.5,863.4 L1220.1,862.1 L1218.7,860.8 L1217.3,859.5 L1215.9,858.1 L1214.5,856.8 L1213.1,855.5 L1211.8,854.1 L1210.5,852.7 L1209.2,851.3 L1207.8,850.0 L1206.6,848.5 L1205.3,847.1 L1204.0,845.7 L1202.8,844.2 L1201.6,842.8 L1200.4,841.3 L1199.2,839.8 L1198.0,838.3 L1196.8,836.8 L1195.7,835.3 L1194.5,833.7 L1193.4,832.1 L1192.3,830.6 L1191.2,829.0 L1190.1,827.4 L1189.0,825.7 L1187.9,824.1 L1186.9,822.5 L1185.8,820.8 L1184.8,819.1 L1183.8,817.4 L1182.8,815.7 L1181.8,814.0 L1180.8,812.3 L1179.8,810.6 L1178.8,808.9 L1177.9,807.1 L1176.9,805.4 L1176.0,803.6 L1175.1,801.8 L1174.1,800.1 L1173.2,798.3 L1172.3,796.5 L1171.4,794.7 L1170.5,792.9 L1169.6,791.1 L1168.7,789.3 L1167.9,787.4 L1167.0,785.6 L1166.1,783.8 L1165.3,782.0 L1164.4,780.1 L1163.6,778.3 L1162.7,776.5 L1161.9,774.6 L1161.1,772.8 L1160.2,770.9 L1159.4,769.1 L1158.6,767.3 L1157.8,765.4 L1157.0,763.6 L1156.2,761.7 L1155.3,759.9 L1154.5,758.1 L1153.7,756.2 L1152.9,754.4 L1152.1,752.5 L1151.3,750.7 L1150.6,748.9 L1149.8,747.0 L1149.0,745.2 L1148.2,743.4 L1147.4,741.5 L1146.7,739.7 L1145.9,737.9 L1145.1,736.0 L1144.3,734.2 L1143.6,732.4 L1142.8,730.5 L1142.1,728.7 L1141.3,726.9 L1140.6,725.0 L1139.8,723.2 L1139.1,721.4 L1138.3,719.5 L1137.6,717.7 L1136.9,715.8 L1136.1,714.0 L1135.4,712.2 L1134.7,710.3 L1133.9,708.5 L1133.2,706.7 L1132.5,704.8 L1131.8,703.0 L1131.1,701.1 L1130.4,699.3 L1129.6,697.4 L1128.9,695.6 L1128.2,693.7 L1127.5,691.9 L1126.8,690.0 L1126.1,688.2 L1125.4,686.3 L1124.8,684.5 L1124.1,682.6 L1123.4,680.8 L1122.7,678.9 L1122.0,677.1 L1121.3,675.2 L1120.7,673.3 L1120.0,671.5 L1119.3,669.6 L1118.6,667.7 L1118.0,665.9 L1117.3,664.0 L1116.6,662.1 L1116.0,660.3 L1115.3,658.4 L1114.6,656.5 L1114.0,654.6 L1113.3,652.8 L1112.7,650.9 L1112.0,649.0 L1111.4,647.1 L1110.7,645.2 L1110.1,643.4 L1109.4,641.5 L1108.8,639.6 L1108.1,637.7 L1107.5,635.8 L1106.8,633.9 L1106.2,632.0 L1105.6,630.2 L1104.9,628.3 L1104.3,626.4 L1103.6,624.5 L1103.0,622.6 L1102.4,620.7 L1101.7,618.8 L1101.1,616.9 L1100.5,615.0 L1099.8,613.1 L1099.2,611.2 L1098.6,609.3 L1097.9,607.4 L1097.3,605.5 L1096.7,603.6 L1096.1,601.7 L1095.4,599.8 L1094.8,598.0 L1094.2,596.1 L1093.5,594.2 L1092.9,592.3 L1092.3,590.3 L1091.7,588.4 L1091.0,586.5 L1090.4,584.6 L1089.8,582.7 L1089.2,580.8 L1088.5,578.9 L1087.9,577.0 L1087.3,575.1 L1086.7,573.2 L1086.0,571.3 L1085.4,569.4 L1084.8,567.5 L1084.1,565.6 L1083.5,563.7 L1082.9,561.8 L1082.3,559.9 L1081.6,558.0 L1081.0,556.1 L1080.4,554.2 L1079.7,552.3 L1079.1,550.4 L1078.5,548.5 L1077.8,546.6 L1077.2,544.7 L1076.6,542.8 L1075.9,540.9 L1075.3,539.0 L1074.6,537.1 L1074.0,535.2 L1073.4,533.3 L1072.7,531.4 L1072.1,529.5 L1071.4,527.5 L1070.8,525.6 L1070.1,523.7 L1069.5,521.8 L1068.8,519.9 L1068.2,518.0 L1067.5,516.1 L1066.9,514.3 L1066.2,512.4 L1065.6,510.5 L1064.9,508.6 L1064.3,506.7 L1063.6,504.8 L1062.9,502.9 L1062.3,501.0 L1061.6,499.1 L1060.9,497.2 L1060.3,495.3 L1059.6,493.4 L1058.9,491.5 L1058.2,489.6 L1057.5,487.7 L1056.9,485.8 L1056.2,484.0 L1055.5,482.1 L1054.8,480.2 L1054.1,478.3 L1053.4,476.4 L1052.7,474.5 L1052.0,472.7 L1051.3,470.8 L1050.6,468.9 L1049.9,467.0 L1049.2,465.1 L1048.5,463.3 L1047.8,461.4 L1047.0,459.5 L1046.3,457.6 L1045.6,455.8 L1044.9,453.9 L1044.1,452.0 L1043.4,450.1 L1042.7,448.3 L1041.9,446.4 L1041.2,444.5 L1040.5,442.7 L1039.7,440.8 L1039.0,439.0 L1038.2,437.1 L1037.4,435.2 L1036.7,433.4 L1035.9,431.5 L1035.1,429.7 L1034.4,427.8 L1033.6,426.0 L1032.8,424.1 L1032.0,422.3 L1031.3,420.4 L1030.5,418.6 L1029.7,416.7 L1028.9,414.9 L1028.1,413.0 L1027.3,411.2 L1026.5,409.4 L1025.6,407.5 L1024.8,405.7 L1024.0,403.9 L1023.2,402.0 L1022.4,400.2 L1021.5,398.4 L1020.7,396.5 L1019.8,394.7 L1019.0,392.9 L1018.1,391.1 L1017.3,389.3 L1016.4,387.4 L1015.6,385.6 L1014.7,383.8 L1013.8,382.0 L1013.0,380.2 L1012.1,378.4 L1011.2,376.6 L1010.3,374.8 L1009.4,373.0 L1008.5,371.2 L1007.6,369.4 L1006.7,367.6 L1005.8,365.8 L1004.9,364.0 L1003.9,362.2 L1003.0,360.4 L1002.1,358.6 L1001.1,356.9 L1000.2,355.1 L999.2,353.3 L998.3,351.5 L997.3,349.7 L996.4,348.0 L995.4,346.2 L994.4,344.4 L993.4,342.7 L992.4,340.9 L991.4,339.2 L990.4,337.4 L989.4,335.6 L988.4,333.9 L987.4,332.1 L986.4,330.4 L985.3,328.7 L984.3,326.9 L983.2,325.2 L982.2,323.4 L981.1,321.7 L980.0,320.0 L978.9,318.3 L977.8,316.6 L976.7,314.9 L975.6,313.2 L974.5,311.5 L973.3,309.8 L972.2,308.1 L971.0,306.4 L969.8,304.8 L968.7,303.1 L967.5,301.5 L966.2,299.8 L965.0,298.2 L963.8,296.6 L962.5,294.9 L961.3,293.3 L960.0,291.7 L958.7,290.2 L957.4,288.6 L956.1,287.0 L954.7,285.5 L953.4,283.9 L952.0,282.4 L950.6,280.9 L949.2,279.4 L947.8,277.9 L946.4,276.4 L944.9,274.9 L943.4,273.4 L941.9,272.0 L940.4,270.6 L938.9,269.2 L937.4,267.8 L935.8,266.4 L934.2,265.1 L932.6,263.7 L931.0,262.4 L929.3,261.1 L927.7,259.9 L926.0,258.6 L924.3,257.4 L922.6,256.3 L920.9,255.1 L919.1,254.0 L917.3,252.9 L915.5,251.9 L913.7,250.9 L911.9,249.9 L910.0,248.9 L908.2,248.0 L906.3,247.1 L904.4,246.3 L902.5,245.4 L900.6,244.6 L898.7,243.9 L896.8,243.1 L894.9,242.4 L893.0,241.7 L891.0,241.0 L889.1,240.4 L887.1,239.7 L885.2,239.1 L883.2,238.5 L881.2,237.9 L879.3,237.4 L877.3,236.8 L875.3,236.3 L873.3,235.8 L871.4,235.3 L869.4,234.8 L867.4,234.3 L865.4,233.8 L863.5,233.3 L861.5,232.8 L859.5,232.4 L857.5,231.9 L855.6,231.5 L853.6,231.0 L851.6,230.6 L849.6,230.1 L847.7,229.7 L845.7,229.3 L843.7,228.8 L841.7,228.4 L839.7,228.0 L837.8,227.6 L835.8,227.2 L833.8,226.8 L831.8,226.4 L829.9,226.0 L827.9,225.6 L825.9,225.2 L823.9,224.9 L821.9,224.5 L820.0,224.1 L818.0,223.7 L816.0,223.4 L814.0,223.0 L812.0,222.7 L810.0,222.3 L808.1,222.0 L806.1,221.6 L804.1,221.3 L802.1,221.0 L800.1,220.6 L798.1,220.3 L796.2,220.0 L794.2,219.6 L792.2,219.3 L790.2,219.0 L788.2,218.7 L786.2,218.4 L784.2,218.1 L782.2,217.8 L780.3,217.5 L778.3,217.2 L776.3,216.9 L774.3,216.6 L772.3,216.4 L770.3,216.1 L768.3,215.8 L766.3,215.5 L764.4,215.3 L762.4,215.0 L760.4,214.7 L758.4,214.5 L756.4,214.2 L754.4,214.0 L752.4,213.7 L750.4,213.5 L748.4,213.2 L746.4,213.0 L744.5,212.8 L742.5,212.5 L740.5,212.3 L738.5,212.0 L736.5,211.8 L734.5,211.6 L732.5,211.4 L730.5,211.2 L728.5,210.9 L726.5,210.7 L724.5,210.5 L722.6,210.3 L720.6,210.1 L718.6,209.9 L716.6,209.7 L714.6,209.5 L712.6,209.3 L710.6,209.1 L708.6,208.9 L706.6,208.7 L704.6,208.5 L702.6,208.3 L700.6,208.1 L698.6,207.9 L696.6,207.8 L694.7,207.6 L692.7,207.4 L690.7,207.2 L688.7,207.0 L686.7,206.9 L684.7,206.7 L682.7,206.5 L680.7,206.4 L678.7,206.2 L676.7,206.0 L674.7,205.9 L672.7,205.7 L670.7,205.5 L668.7,205.4 L666.8,205.2 L664.8,205.0 L662.8,204.9 L660.8,204.7 L658.8,204.6 L656.8,204.4 L654.8,204.2 L652.8,204.1 L650.8,203.9 L648.9,203.7 L646.9,203.6 L644.9,203.4 L642.9,203.2 L640.9,203.0 L638.9,202.8 L637.0,202.7 L635.0,202.5 L633.0,202.3 L631.0,202.1 L629.0,201.9 L627.0,201.7 L625.1,201.5 L623.1,201.3 L621.1,201.1 L619.1,200.8 L617.1,200.6 L615.2,200.4 L613.2,200.2 L611.2,199.9 L609.2,199.7 L607.2,199.4 L605.3,199.2 L603.3,198.9 L601.3,198.6 L599.3,198.3 L597.4,198.0 L595.4,197.7 L593.4,197.4 L591.5,197.1 L589.5,196.8 L587.6,196.5 L585.6,196.1 L583.7,195.8 L581.7,195.4 L579.8,195.0 L577.8,194.6 L575.9,194.2 L574.0,193.8 L572.1,193.4 L570.1,193.0 L568.2,192.5 L566.3,192.0 L564.4,191.6 L562.5,191.1 L560.6,190.6 L558.8,190.0 L556.9,189.5 L555.0,188.9 L553.2,188.4 L551.3,187.8 L549.5,187.2 L547.7,186.6 L545.8,185.9 L544.0,185.3 L542.2,184.6 L540.4,183.9 L538.7,183.2 L536.9,182.4 L535.1,181.7 L533.4,180.9 L531.6,180.1 L529.9,179.3 L528.2,178.5 L526.5,177.6 L524.8,176.7 L523.1,175.9 L521.4,174.9 L519.8,174.0 L518.1,173.0 L516.5,172.0 L514.8,171.0 L513.2,170.0 L511.6,168.9 L510.0,167.9 L508.3,166.8 L506.7,165.7 L505.1,164.6 L503.5,163.4 L501.9,162.3 L500.3,161.1 L498.7,159.9 L497.0,158.8 L495.4,157.6 L493.8,156.4 L492.2,155.2 L490.6,154.0 L488.9,152.8 L487.3,151.6 L485.7,150.4 L484.0,149.2 L482.4,148.0 L480.7,146.8 L479.1,145.6 L477.4,144.5 L475.7,143.3 L474.0,142.2 L472.3,141.0 L470.6,139.9 L468.8,138.8 L467.1,137.7 L465.3,136.6 L463.6,135.6 L461.8,134.6 L460.0,133.6 L458.2,132.6 L456.5,131.6 L454.7,130.7 L453.0,129.7 L451.3,128.8 L449.6,127.8 L447.9,126.9 L446.2,125.9 L444.6,125.0 L442.9,124.0 L441.3,123.0 L439.8,122.0 L438.2,120.9 L436.7,119.8 L435.3,118.7 L433.8,117.6 L432.4,116.5 L431.0,115.3 L429.7,114.0 L428.3,112.8 L427.1,111.5 L425.8,110.1 L424.6,108.7Z"/>
<path clip-path="url(#cr)" fill="#f00" d="M416.6,115.9 L418.0,117.4 L419.4,118.8 L420.9,120.3 L422.3,121.7 L423.8,123.2 L425.2,124.6 L426.7,126.0 L428.2,127.4 L429.7,128.8 L431.2,130.1 L432.7,131.5 L434.2,132.9 L435.7,134.2 L437.2,135.5 L438.8,136.9 L440.3,138.2 L441.8,139.5 L443.4,140.8 L445.0,142.1 L446.5,143.4 L448.1,144.6 L449.7,145.9 L451.3,147.2 L452.9,148.4 L454.5,149.6 L456.1,150.9 L457.7,152.1 L459.3,153.3 L460.9,154.5 L462.6,155.8 L464.2,157.0 L465.8,158.2 L467.5,159.4 L469.1,160.5 L470.7,161.7 L472.4,162.9 L474.1,164.1 L475.7,165.2 L477.4,166.4 L479.1,167.6 L480.8,168.7 L482.4,169.8 L484.1,171.0 L485.9,172.1 L487.6,173.2 L489.3,174.3 L491.0,175.3 L492.8,176.4 L494.6,177.4 L496.3,178.5 L498.1,179.5 L499.9,180.5 L501.7,181.5 L503.5,182.4 L505.3,183.4 L507.2,184.3 L509.0,185.2 L510.9,186.0 L512.8,186.9 L514.6,187.7 L516.5,188.5 L518.5,189.3 L520.4,190.1 L522.3,190.8 L524.2,191.5 L526.1,192.2 L528.1,192.9 L530.0,193.5 L532.0,194.2 L533.9,194.8 L535.8,195.4 L537.8,196.0 L539.8,196.6 L541.7,197.1 L543.7,197.7 L545.6,198.2 L547.6,198.8 L549.5,199.3 L551.5,199.8 L553.4,200.3 L555.4,200.8 L557.4,201.3 L559.3,201.8 L561.3,202.3 L563.2,202.8 L565.2,203.3 L567.2,203.7 L569.1,204.2 L571.1,204.6 L573.0,205.1 L575.0,205.5 L577.0,206.0 L578.9,206.4 L580.9,206.8 L582.9,207.3 L584.9,207.7 L586.8,208.1 L588.8,208.5 L590.8,208.9 L592.7,209.3 L594.7,209.7 L596.7,210.0 L598.7,210.4 L600.6,210.8 L602.6,211.2 L604.6,211.5 L606.6,211.9 L608.5,212.2 L610.5,212.6 L612.5,212.9 L614.5,213.3 L616.5,213.6 L618.4,213.9 L620.4,214.3 L622.4,214.6 L624.4,214.9 L626.4,215.2 L628.4,215.5 L630.3,215.8 L632.3,216.1 L634.3,216.4 L636.3,216.7 L638.3,217.0 L640.3,217.3 L642.3,217.6 L644.2,217.9 L646.2,218.2 L648.2,218.5 L650.2,218.7 L652.2,219.0 L654.2,219.3 L656.2,219.5 L658.2,219.8 L660.2,220.1 L662.1,220.3 L664.1,220.6 L666.1,220.8 L668.1,221.1 L670.1,221.3 L672.1,221.6 L674.1,221.8 L676.1,222.1 L678.1,222.3 L680.1,222.5 L682.1,222.8 L684.0,223.0 L686.0,223.2 L688.0,223.5 L690.0,223.7 L692.0,223.9 L694.0,224.1 L696.0,224.4 L698.0,224.6 L700.0,224.8 L702.0,225.0 L704.0,225.3 L706.0,225.5 L708.0,225.7 L710.0,225.9 L711.9,226.1 L713.9,226.4 L715.9,226.6 L717.9,226.8 L719.9,227.0 L721.9,227.2 L723.9,227.4 L725.9,227.7 L727.9,227.9 L729.9,228.1 L731.9,228.3 L733.9,228.5 L735.8,228.7 L737.8,228.9 L739.8,229.2 L741.8,229.4 L743.8,229.6 L745.8,229.8 L747.8,230.0 L749.8,230.3 L751.8,230.5 L753.7,230.7 L755.7,230.9 L757.7,231.1 L759.7,231.4 L761.7,231.6 L763.7,231.8 L765.7,232.1 L767.6,232.3 L769.6,232.5 L771.6,232.7 L773.6,233.0 L775.6,233.2 L777.6,233.5 L779.5,233.7 L781.5,233.9 L783.5,234.2 L785.5,234.4 L787.5,234.7 L789.4,234.9 L791.4,235.2 L793.4,235.4 L795.4,235.7 L797.3,236.0 L799.3,236.2 L801.3,236.5 L803.3,236.8 L805.2,237.1 L807.2,237.3 L809.2,237.6 L811.1,237.9 L813.1,238.2 L815.1,238.5 L817.0,238.8 L819.0,239.1 L821.0,239.4 L822.9,239.7 L824.9,240.0 L826.8,240.3 L828.8,240.7 L830.8,241.0 L832.7,241.3 L834.7,241.7 L836.6,242.0 L838.6,242.4 L840.5,242.7 L842.5,243.1 L844.4,243.5 L846.4,243.8 L848.3,244.2 L850.2,244.6 L852.2,245.0 L854.1,245.4 L856.1,245.8 L858.0,246.2 L859.9,246.6 L861.9,247.0 L863.8,247.4 L865.7,247.9 L867.7,248.3 L869.6,248.7 L871.5,249.2 L873.4,249.7 L875.4,250.1 L877.3,250.6 L879.2,251.1 L881.1,251.6 L883.0,252.1 L884.9,252.6 L886.8,253.1 L888.7,253.6 L890.6,254.1 L892.5,254.7 L894.4,255.2 L896.3,255.8 L898.2,256.3 L900.1,256.9 L902.0,257.5 L903.8,258.1 L905.7,258.7 L907.6,259.3 L909.4,259.9 L911.3,260.6 L913.2,261.2 L915.0,261.9 L916.8,262.5 L918.7,263.2 L920.5,263.9 L922.3,264.6 L924.2,265.3 L926.0,266.1 L927.8,266.8 L929.6,267.6 L931.4,268.3 L933.2,269.1 L935.0,269.9 L936.7,270.7 L938.5,271.5 L940.3,272.4 L942.0,273.2 L943.8,274.1 L945.5,275.0 L947.3,275.9 L949.0,276.8 L950.7,277.7 L952.4,278.6 L954.1,279.6 L955.8,280.5 L957.5,281.5 L959.2,282.5 L960.9,283.5 L962.6,284.5 L964.3,285.5 L965.9,286.5 L967.6,287.6 L969.3,288.6 L970.9,289.7 L972.5,290.8 L974.2,291.9 L975.8,293.0 L977.4,294.1 L979.0,295.2 L980.6,296.3 L982.2,297.5 L983.8,298.6 L985.4,299.8 L987.0,301.0 L988.5,302.2 L990.1,303.4 L991.6,304.6 L993.2,305.8 L994.7,307.0 L996.2,308.3 L997.8,309.5 L999.3,310.8 L1000.8,312.1 L1002.3,313.3 L1003.8,314.6 L1005.2,315.9 L1006.7,317.2 L1008.2,318.5 L1009.6,319.9 L1011.1,321.2 L1012.5,322.5 L1013.9,323.9 L1015.4,325.3 L1016.8,326.6 L1018.2,328.0 L1019.6,329.4 L1021.0,330.8 L1022.3,332.2 L1023.7,333.6 L1025.1,335.0 L1026.4,336.4 L1027.8,337.8 L1029.1,339.3 L1030.4,340.7 L1031.8,342.2 L1033.1,343.6 L1034.4,345.1 L1035.7,346.6 L1037.0,348.0 L1038.3,349.5 L1039.6,351.0 L1040.8,352.5 L1042.1,354.0 L1043.4,355.5 L1044.6,357.1 L1045.8,358.6 L1047.1,360.1 L1048.3,361.7 L1049.5,363.2 L1050.8,364.8 L1052.0,366.3 L1053.2,367.9 L1054.4,369.4 L1055.6,371.0 L1056.7,372.6 L1057.9,374.2 L1059.1,375.8 L1060.3,377.4 L1061.4,379.0 L1062.6,380.6 L1063.7,382.2 L1064.8,383.8 L1066.0,385.4 L1067.1,387.1 L1068.2,388.7 L1069.3,390.3 L1070.5,392.0 L1071.6,393.6 L1072.7,395.3 L1073.7,396.9 L1074.8,398.6 L1075.9,400.2 L1077.0,401.9 L1078.1,403.6 L1079.1,405.2 L1080.2,406.9 L1081.2,408.6 L1082.3,410.3 L1083.3,411.9 L1084.4,413.6 L1085.4,415.3 L1086.4,417.0 L1087.5,418.7 L1088.5,420.4 L1089.5,422.1 L1090.5,423.8 L1091.5,425.5 L1092.5,427.3 L1093.5,429.0 L1094.4,430.7 L1095.4,432.4 L1096.4,434.1 L1097.4,435.9 L1098.3,437.6 L1099.3,439.3 L1100.2,441.1 L1101.2,442.8 L1102.1,444.6 L1103.0,446.3 L1104.0,448.1 L1104.9,449.8 L1105.8,451.6 L1106.7,453.4 L1107.6,455.1 L1108.5,456.9 L1109.4,458.7 L1110.3,460.4 L1111.2,462.2 L1112.0,464.0 L1112.9,465.8 L1113.8,467.6 L1114.6,469.3 L1115.5,471.1 L1116.3,472.9 L1117.2,474.7 L1118.0,476.5 L1118.8,478.3 L1119.7,480.1 L1120.5,481.9 L1121.3,483.7 L1122.1,485.6 L1122.9,487.4 L1123.7,489.2 L1124.5,491.0 L1125.2,492.8 L1126.0,494.7 L1126.8,496.5 L1127.5,498.3 L1128.3,500.1 L1129.0,502.0 L1129.7,503.8 L1130.5,505.7 L1131.2,507.5 L1131.9,509.3 L1132.6,511.2 L1133.3,513.0 L1134.0,514.9 L1134.7,516.8 L1135.4,518.6 L1136.1,520.5 L1136.7,522.3 L1137.4,524.2 L1138.0,526.1 L1138.7,527.9 L1139.3,529.8 L1139.9,531.7 L1140.5,533.6 L1141.2,535.4 L1141.8,537.3 L1142.4,539.2 L1142.9,541.1 L1143.5,543.0 L1144.1,544.9 L1144.7,546.8 L1145.2,548.7 L1145.8,550.6 L1146.3,552.5 L1146.9,554.4 L1147.4,556.3 L1147.9,558.2 L1148.4,560.1 L1149.0,562.0 L1149.5,563.9 L1150.0,565.8 L1150.5,567.8 L1151.0,569.7 L1151.4,571.6 L1151.9,573.5 L1152.4,575.5 L1152.9,577.4 L1153.3,579.3 L1153.8,581.2 L1154.3,583.2 L1154.7,585.1 L1155.2,587.1 L1155.6,589.0 L1156.0,590.9 L1156.5,592.9 L1156.9,594.8 L1157.3,596.8 L1157.8,598.7 L1158.2,600.7 L1158.6,602.6 L1159.0,604.6 L1159.4,606.5 L1159.8,608.5 L1160.2,610.4 L1160.6,612.4 L1161.0,614.3 L1161.4,616.3 L1161.8,618.2 L1162.2,620.2 L1162.6,622.2 L1163.0,624.1 L1163.4,626.1 L1163.7,628.0 L1164.1,630.0 L1164.5,632.0 L1164.9,633.9 L1165.3,635.9 L1165.6,637.8 L1166.0,639.8 L1166.4,641.8 L1166.8,643.7 L1167.1,645.7 L1167.5,647.7 L1167.9,649.6 L1168.2,651.6 L1168.6,653.6 L1169.0,655.5 L1169.3,657.5 L1169.7,659.5 L1170.1,661.4 L1170.5,663.4 L1170.8,665.4 L1171.2,667.3 L1171.6,669.3 L1171.9,671.3 L1172.3,673.2 L1172.7,675.2 L1173.0,677.2 L1173.4,679.1 L1173.8,681.1 L1174.2,683.1 L1174.5,685.0 L1174.9,687.0 L1175.3,688.9 L1175.6,690.9 L1176.0,692.9 L1176.4,694.8 L1176.7,696.8 L1177.1,698.8 L1177.4,700.7 L1177.8,702.7 L1178.2,704.6 L1178.5,706.6 L1178.9,708.6 L1179.3,710.5 L1179.6,712.5 L1180.0,714.5 L1180.3,716.4 L1180.7,718.4 L1181.0,720.3 L1181.4,722.3 L1181.7,724.3 L1182.1,726.2 L1182.4,728.2 L1182.8,730.2 L1183.1,732.1 L1183.5,734.1 L1183.8,736.0 L1184.2,738.0 L1184.5,740.0 L1184.9,741.9 L1185.2,743.9 L1185.5,745.9 L1185.9,747.8 L1186.2,749.8 L1186.5,751.8 L1186.9,753.7 L1187.2,755.7 L1187.5,757.7 L1187.8,759.6 L1188.2,761.6 L1188.5,763.6 L1188.8,765.5 L1189.1,767.5 L1189.4,769.5 L1189.8,771.4 L1190.1,773.4 L1190.4,775.4 L1190.7,777.3 L1191.0,779.3 L1191.3,781.3 L1191.6,783.3 L1191.9,785.2 L1192.2,787.2 L1192.5,789.2 L1192.8,791.2 L1193.1,793.1 L1193.4,795.1 L1193.7,797.1 L1194.0,799.1 L1194.2,801.0 L1194.5,803.0 L1194.8,805.0 L1195.1,807.0 L1195.4,809.0 L1195.7,810.9 L1195.9,812.9 L1196.2,814.9 L1196.5,816.9 L1196.8,818.9 L1197.0,820.8 L1197.3,822.8 L1197.6,824.8 L1197.8,826.8 L1198.1,828.8 L1198.4,830.8 L1198.7,832.7 L1198.9,834.7 L1199.2,836.7 L1199.5,838.7 L1199.7,840.7 L1200.0,842.7 L1200.2,844.6 L1200.5,846.6 L1200.8,848.6 L1201.0,850.6 L1201.3,852.6 L1201.6,854.6 L1201.8,856.6 L1202.1,858.5 L1202.3,860.5 L1202.6,862.5 L1202.9,864.5 L1203.1,866.5 L1203.4,868.5 L1203.6,870.5 L1203.9,872.4 L1204.2,874.4 L1204.4,876.4 L1204.7,878.4 L1204.9,880.4 L1205.2,882.4 L1205.5,884.4 L1205.7,886.3 L1206.0,888.3 L1206.2,890.3 L1206.5,892.3 L1206.8,894.3 L1207.0,896.3 L1207.3,898.3 L1207.6,900.2 L1207.8,902.2 L1208.1,904.2 L1208.3,906.2 L1208.6,908.2 L1208.9,910.2 L1209.1,912.2 L1209.4,914.1 L1209.7,916.1 L1210.0,918.1 L1210.2,920.1 L1210.5,922.1 L1210.8,924.1 L1211.0,926.0 L1211.3,928.0 L1211.6,930.0 L1211.9,932.0 L1212.1,934.0 L1212.4,935.9 L1212.7,937.9 L1213.0,939.9 L1213.3,941.9 L1213.6,943.8 L1213.8,945.8 L1214.1,947.8 L1214.4,949.8 L1214.7,951.8 L1215.0,953.7 L1215.3,955.7 L1215.6,957.7 L1215.9,959.7 L1216.2,961.6 L1216.5,963.6 L1216.8,965.6 L1217.1,967.5 L1217.4,969.5 L1217.7,971.5 L1218.0,973.5 L1218.3,975.4 L1218.6,977.4 L1219.0,979.4 L1219.3,981.3 L1219.6,983.3 L1219.9,985.3 L1220.2,987.2 L1220.6,989.2 L1220.9,991.2 L1221.2,993.1 L1221.6,995.1 L1221.9,997.1 L1222.2,999.1 L1222.6,1001.0 L1222.9,1003.0 L1223.2,1005.0 L1223.6,1006.9 L1223.9,1008.9 L1224.3,1010.9 L1224.6,1012.8 L1225.0,1014.8 L1225.3,1016.8 L1225.7,1018.7 L1226.1,1020.7 L1226.4,1022.7 L1226.8,1024.7 L1227.1,1026.6 L1227.5,1028.6 L1227.9,1030.6 L1228.3,1032.5 L1228.6,1034.5 L1229.0,1036.5 L1229.4,1038.5 L1229.8,1040.4 L1230.2,1042.4 L1230.5,1044.4 L1230.9,1046.4 L1231.3,1048.3 L1231.7,1050.3 L1232.1,1052.3 L1232.5,1054.3 L1232.9,1056.3 L1233.3,1058.3 L1233.7,1060.2 L1234.2,1062.2 L1234.6,1064.2 L1235.0,1066.2 L1235.4,1068.2 L1235.8,1070.2 L1236.3,1072.2 L1236.7,1074.1 L1237.1,1076.1 L1237.5,1078.1 L1238.0,1080.1 L1238.4,1082.1 L1238.9,1084.1 L1239.3,1086.1 L1239.8,1088.1 L1240.3,1090.1 L1240.8,1092.1 L1241.3,1094.1 L1241.8,1096.1 L1242.3,1098.1 L1242.9,1100.1 L1243.4,1102.1 L1244.0,1104.1 L1244.6,1106.1 L1245.2,1108.0 L1245.9,1110.0 L1246.5,1112.0 L1247.2,1113.9 L1247.9,1115.9 L1248.6,1117.8 L1249.4,1119.7 L1250.2,1121.6 L1251.0,1123.5 L1251.8,1125.4 L1252.7,1127.3 L1253.6,1129.1 L1254.5,1131.0 L1255.5,1132.8 L1256.5,1134.6 L1257.5,1136.4 L1258.6,1138.2 L1259.7,1140.0 L1260.8,1141.7 L1262.0,1143.4 L1263.2,1145.1 L1264.4,1146.8 L1265.7,1148.4 L1267.0,1150.0 L1268.4,1151.6 L1269.7,1153.2 L1271.2,1154.7 L1272.6,1156.2 L1274.1,1157.7 L1275.7,1159.1 L1277.2,1160.5 L1278.8,1161.8 L1280.5,1163.1 L1282.1,1164.4 L1283.8,1165.6 L1285.6,1166.8 L1287.3,1168.0 L1289.0,1169.1 L1290.8,1170.2 L1292.6,1171.3 L1294.4,1172.4 L1296.2,1173.4 L1298.0,1174.4 L1299.9,1175.4 L1301.7,1176.3 L1303.6,1177.3 L1305.4,1178.2 L1307.3,1179.1 L1309.1,1180.0 L1311.0,1180.8 L1312.8,1181.7 L1314.7,1182.6 L1316.5,1183.4 L1318.4,1184.3 L1320.2,1185.1 L1322.1,1185.9 L1323.9,1186.8 L1325.8,1187.6 L1327.6,1188.4 L1329.5,1189.2 L1331.3,1190.0 L1333.2,1190.8 L1335.0,1191.6 L1336.8,1192.4 L1338.7,1193.2 L1340.5,1194.0 L1342.4,1194.8 L1344.2,1195.6 L1346.1,1196.4 L1347.9,1197.2 L1349.8,1197.9 L1351.6,1198.7 L1353.5,1199.5 L1355.3,1200.3 L1357.2,1201.0 L1359.0,1201.8 L1360.9,1202.6 L1362.7,1203.3 L1364.6,1204.1 L1366.4,1204.9 L1368.3,1205.7 L1370.1,1206.4 L1372.0,1207.2 L1373.8,1207.9 L1375.7,1208.7 L1377.5,1209.5 L1379.4,1210.2 L1381.2,1211.0 L1383.1,1211.7 L1385.0,1212.5 L1386.8,1213.3 L1388.7,1214.0 L1390.5,1214.8 L1392.4,1215.5 L1394.2,1216.3 L1396.1,1217.0 L1397.9,1217.8 L1399.8,1218.5 L1401.7,1219.3 L1403.5,1220.0 L1405.4,1220.7 L1407.2,1221.5 L1409.1,1222.2 L1411.0,1223.0 L1412.8,1223.7 L1414.7,1224.4 L1416.5,1225.2 L1418.4,1225.9 L1420.3,1226.7 L1422.1,1227.4 L1424.0,1228.1 L1425.9,1228.8 L1427.7,1229.6 L1429.6,1230.3 L1431.5,1231.0 L1433.3,1231.8 L1435.2,1232.5 L1437.1,1233.2 L1438.9,1233.9 L1440.8,1234.7 L1442.7,1235.4 L1444.5,1236.1 L1446.4,1236.8 L1448.3,1237.5 L1450.1,1238.3 L1452.0,1239.0 L1453.9,1239.7 L1455.7,1240.4 L1457.6,1241.1 L1459.5,1241.8 L1461.3,1242.6 L1463.2,1243.3 L1465.1,1244.0 L1467.0,1244.7 L1468.8,1245.4 L1470.7,1246.1 L1472.6,1246.8 L1474.5,1247.5 L1476.3,1248.2 L1478.2,1248.9 L1480.1,1249.6 L1482.0,1250.3 L1483.8,1251.0 L1485.7,1251.7 L1487.6,1252.4 L1489.5,1253.1 L1491.3,1253.8 L1493.2,1254.5 L1495.1,1255.2 L1497.0,1255.9 L1498.8,1256.6 L1500.7,1257.3 L1502.6,1258.0 L1504.5,1258.7 L1506.4,1259.3 L1508.2,1260.0 L1510.1,1260.7 L1512.0,1261.4 L1513.9,1262.1 L1515.8,1262.8 L1517.6,1263.5 L1519.5,1264.1 L1521.4,1264.8 L1523.3,1265.5 L1525.2,1266.2 L1527.1,1266.9 L1528.9,1267.5 L1530.8,1268.2 L1532.7,1268.9 L1534.6,1269.6 L1536.5,1270.2 L1538.4,1270.9 L1540.3,1271.6 L1542.1,1272.3 L1544.0,1272.9 L1545.9,1273.6 L1547.8,1274.3 L1549.7,1274.9 L1551.6,1275.6 L1553.5,1276.3 L1555.3,1276.9 L1557.2,1277.6 L1559.1,1278.3 L1561.0,1278.9 L1562.9,1279.6 L1564.8,1280.3 L1566.7,1280.9 L1568.6,1281.6 L1570.5,1282.2 L1572.4,1282.9 L1574.2,1283.6 L1576.1,1284.2 L1578.0,1284.9 L1579.9,1285.5 L1581.8,1286.2 L1583.7,1286.8 L1585.6,1287.5 L1587.5,1288.1 L1589.4,1288.8 L1591.3,1289.4 L1593.2,1290.1 L1595.1,1290.7 L1597.0,1291.4 L1598.9,1292.0 L1600.8,1292.7 L1602.6,1293.3 L1604.5,1294.0 L1606.4,1294.6 L1608.3,1295.3 L1610.2,1295.9 L1612.1,1296.5 L1614.0,1297.2 L1615.9,1297.8 L1617.8,1298.5 L1619.7,1299.1 L1621.6,1299.7 L1623.5,1300.4 L1625.4,1301.0 L1627.3,1301.7 L1629.2,1302.3 L1631.1,1302.9 L1633.0,1303.6 L1634.9,1304.2 L1636.8,1304.8 L1638.7,1305.5 L1640.6,1306.1 L1642.5,1306.7 L1644.4,1307.3 L1646.3,1308.0 L1648.2,1308.6 L1650.1,1309.2 L1652.0,1309.8 L1653.9,1310.5 L1655.8,1311.1 L1657.7,1311.7 L1659.6,1312.3 L1661.6,1313.0 L1663.5,1313.6 L1665.4,1314.2 L1667.3,1314.8 L1669.2,1315.4 L1671.1,1316.0 L1673.0,1316.7 L1674.9,1317.3 L1676.8,1317.9 L1678.7,1318.5 L1680.6,1319.1 L1682.5,1319.7 L1684.4,1320.3 L1686.3,1321.0 L1688.2,1321.6 L1690.1,1322.2 L1692.1,1322.8 L1694.0,1323.4 L1695.9,1324.0 L1697.8,1324.6 L1699.7,1325.2 L1701.6,1325.8 L1703.5,1326.4 L1705.4,1327.0 L1707.3,1327.6 L1709.2,1328.2 L1711.2,1328.8 L1713.1,1329.4 L1715.0,1330.0 L1716.9,1330.6 L1718.8,1331.2 L1720.7,1331.8 L1722.6,1332.4 L1724.5,1333.0 L1726.4,1333.6 L1728.4,1334.2 L1730.3,1334.8 L1732.2,1335.3 L1734.1,1335.9 L1736.0,1336.5 L1737.9,1337.1 L1739.8,1337.7 L1741.8,1338.3 L1743.7,1338.9 L1745.6,1339.4 L1747.5,1340.0 L1749.4,1340.6 L1751.3,1341.2 L1753.2,1341.8 L1755.2,1342.4 L1757.1,1342.9 L1759.0,1343.5 L1760.9,1344.1 L1762.8,1344.7 L1764.7,1345.2 L1766.7,1345.8 L1768.6,1346.4 L1770.5,1347.0 L1772.4,1347.5 L1774.3,1348.1 L1776.3,1348.7 L1778.2,1349.2 L1780.1,1349.8 L1782.0,1350.4 L1783.9,1351.0 L1785.8,1351.5 L1787.8,1352.1 L1789.7,1352.6 L1791.6,1353.2 L1793.5,1353.8 L1795.4,1354.3 L1797.4,1354.9 L1799.3,1355.5 L1801.2,1356.0 L1803.1,1356.6 L1805.0,1357.2 L1806.9,1357.7 L1808.8,1358.3 L1810.8,1358.9 L1812.7,1359.4 L1814.6,1360.0 L1816.5,1360.6 L1818.4,1361.2 L1820.3,1361.7 L1822.2,1362.3 L1824.1,1362.9 L1826.0,1363.5 L1827.9,1364.1 L1829.8,1364.7 L1831.7,1365.3 L1833.6,1365.9 L1835.5,1366.5 L1837.4,1367.1 L1839.2,1367.7 L1841.1,1368.3 L1843.0,1368.9 L1844.9,1369.6 L1846.8,1370.2 L1848.6,1370.8 L1850.5,1371.5 L1852.4,1372.1 L1854.3,1372.8 L1856.1,1373.5 L1858.0,1374.1 L1859.9,1374.8 L1861.8,1375.5 L1863.7,1376.1 L1865.5,1376.8 L1867.4,1377.5 L1869.3,1378.2 L1871.2,1378.8 L1873.1,1379.5 L1875.0,1380.2 L1876.8,1380.8 L1878.7,1381.5 L1880.6,1382.2 L1882.5,1382.8 L1884.4,1383.5 L1886.3,1384.2 L1888.2,1384.8 L1890.1,1385.4 L1892.0,1386.1 L1894.0,1386.7 L1895.9,1387.4 L1897.8,1388.0 L1899.7,1388.6 L1901.6,1389.2 L1903.5,1389.8 L1905.4,1390.4 L1907.3,1391.0 L1909.3,1391.6 L1911.2,1392.2 L1913.1,1392.8 L1915.0,1393.4 L1917.0,1394.0 L1918.9,1394.6 L1920.8,1395.1 L1922.7,1395.7 L1924.7,1396.3 L1926.6,1396.8 L1928.5,1397.4 L1930.4,1397.9 L1932.4,1398.5 L1934.3,1399.0 L1936.2,1399.6 L1938.2,1400.1 L1940.1,1400.6 L1942.0,1401.2 L1944.0,1401.7 L1945.9,1402.2 L1947.9,1402.7 L1949.8,1403.2 L1951.7,1403.7 L1953.7,1404.2 L1955.6,1404.8 L1957.6,1405.3 L1959.5,1405.7 L1961.5,1406.2 L1963.4,1406.7 L1965.4,1407.2 L1967.3,1407.7 L1969.3,1408.2 L1971.2,1408.6 L1973.2,1409.1 L1975.1,1409.6 L1977.1,1410.1 L1979.0,1410.5 L1981.0,1411.0 L1982.9,1411.4 L1984.9,1411.9 L1986.8,1412.3 L1988.8,1412.8 L1990.7,1413.2 L1992.7,1413.7 L1994.7,1414.1 L1996.6,1414.6 L1998.6,1415.0 L2000.5,1415.4 L2002.5,1415.8 L2004.5,1416.3 L2006.4,1416.7 L2008.4,1417.1 L2010.3,1417.5 L2012.3,1417.9 L2014.3,1418.4 L2016.2,1418.8 L2018.2,1419.2 L2020.2,1419.6 L2022.1,1420.0 L2024.1,1420.4 L2026.1,1420.8 L2028.0,1421.2 L2030.0,1421.6 L2032.0,1422.0 L2033.9,1422.4 L2035.9,1422.8 L2037.9,1423.1 L2039.9,1423.5 L2041.8,1423.9 L2043.8,1424.3 L2045.8,1424.7 L2047.7,1425.1 L2049.7,1425.4 L2051.7,1425.8 L2053.7,1426.2 L2055.6,1426.5 L2057.6,1426.9 L2059.6,1427.3 L2061.5,1427.6 L2063.5,1428.0 L2065.5,1428.4 L2067.5,1428.7 L2069.4,1429.1 L2071.4,1429.4 L2073.4,1429.8 L2075.4,1430.2 L2077.3,1430.5 L2079.3,1430.9 L2081.3,1431.2 L2083.3,1431.6 L2085.2,1431.9 L2087.2,1432.3 L2089.2,1432.6 L2091.2,1433.0 L2093.1,1433.3 L2095.1,1433.7 L2097.1,1434.0 L2099.1,1434.3 L2101.0,1434.7 L2103.0,1435.0 L2105.0,1435.4 L2107.0,1435.7 L2109.0,1436.0 L2110.9,1436.4 L2112.9,1436.7 L2114.9,1437.1 L2116.9,1437.4 L2118.8,1437.7 L2120.8,1438.1 L2122.8,1438.4 L2124.8,1438.7 L2126.7,1439.1 L2128.7,1439.4 L2130.7,1439.7 L2132.6,1440.1 L2134.6,1440.4 L2136.6,1440.7 L2138.6,1441.1 L2140.5,1441.4 L2142.5,1441.7 L2144.5,1442.1 L2146.5,1442.4 L2148.4,1442.7 L2150.4,1443.1 L2152.4,1443.4 L2154.3,1443.7 L2156.3,1444.1 L2158.3,1444.4 L2160.3,1444.7 L2162.2,1445.1 L2164.2,1445.4 L2166.2,1445.7 L2168.1,1446.1 L2170.1,1446.4 L2172.1,1446.7 L2174.0,1447.1 L2176.0,1447.4 L2178.0,1447.8 L2179.9,1448.1 L2181.9,1448.4 L2183.9,1448.8 L2185.8,1449.1 L2187.8,1449.5 L2189.7,1449.8 L2191.7,1450.1 L2193.7,1450.5 L2195.6,1450.8 L2197.6,1451.2 L2199.6,1451.5 L2201.5,1451.9 L2203.5,1452.2 L2205.4,1452.6 L2207.4,1452.9 L2209.3,1453.3 L2211.0,1453.6 L2212.8,1443.2 L2211.2,1442.9 L2209.2,1442.5 L2207.3,1442.2 L2205.3,1441.8 L2203.4,1441.5 L2201.4,1441.1 L2199.4,1440.8 L2197.5,1440.5 L2195.5,1440.1 L2193.5,1439.8 L2191.6,1439.4 L2189.6,1439.1 L2187.6,1438.7 L2185.7,1438.4 L2183.7,1438.1 L2181.7,1437.7 L2179.7,1437.4 L2177.8,1437.0 L2175.8,1436.7 L2173.8,1436.4 L2171.9,1436.0 L2169.9,1435.7 L2167.9,1435.4 L2166.0,1435.0 L2164.0,1434.7 L2162.0,1434.4 L2160.0,1434.0 L2158.1,1433.7 L2156.1,1433.4 L2154.1,1433.0 L2152.2,1432.7 L2150.2,1432.4 L2148.2,1432.0 L2146.2,1431.7 L2144.3,1431.4 L2142.3,1431.0 L2140.3,1430.7 L2138.3,1430.4 L2136.4,1430.0 L2134.4,1429.7 L2132.4,1429.4 L2130.5,1429.0 L2128.5,1428.7 L2126.5,1428.4 L2124.5,1428.0 L2122.6,1427.7 L2120.6,1427.4 L2118.6,1427.0 L2116.6,1426.7 L2114.7,1426.3 L2112.7,1426.0 L2110.7,1425.7 L2108.8,1425.3 L2106.8,1425.0 L2104.8,1424.7 L2102.8,1424.3 L2100.9,1424.0 L2098.9,1423.6 L2096.9,1423.3 L2095.0,1422.9 L2093.0,1422.6 L2091.0,1422.2 L2089.0,1421.9 L2087.1,1421.6 L2085.1,1421.2 L2083.1,1420.9 L2081.2,1420.5 L2079.2,1420.1 L2077.2,1419.8 L2075.3,1419.4 L2073.3,1419.1 L2071.3,1418.7 L2069.4,1418.4 L2067.4,1418.0 L2065.4,1417.6 L2063.5,1417.3 L2061.5,1416.9 L2059.5,1416.5 L2057.6,1416.2 L2055.6,1415.8 L2053.6,1415.4 L2051.7,1415.1 L2049.7,1414.7 L2047.8,1414.3 L2045.8,1413.9 L2043.8,1413.6 L2041.9,1413.2 L2039.9,1412.8 L2038.0,1412.4 L2036.0,1412.0 L2034.0,1411.6 L2032.1,1411.2 L2030.1,1410.8 L2028.2,1410.4 L2026.2,1410.0 L2024.3,1409.6 L2022.3,1409.2 L2020.4,1408.8 L2018.4,1408.4 L2016.5,1408.0 L2014.5,1407.6 L2012.5,1407.2 L2010.6,1406.8 L2008.7,1406.3 L2006.7,1405.9 L2004.8,1405.5 L2002.8,1405.1 L2000.9,1404.6 L1998.9,1404.2 L1997.0,1403.8 L1995.0,1403.3 L1993.1,1402.9 L1991.1,1402.4 L1989.2,1402.0 L1987.3,1401.6 L1985.3,1401.1 L1983.4,1400.6 L1981.5,1400.2 L1979.5,1399.7 L1977.6,1399.3 L1975.7,1398.8 L1973.7,1398.3 L1971.8,1397.8 L1969.9,1397.4 L1967.9,1396.9 L1966.0,1396.4 L1964.1,1395.9 L1962.1,1395.4 L1960.2,1394.9 L1958.3,1394.4 L1956.4,1393.9 L1954.4,1393.4 L1952.5,1392.9 L1950.6,1392.4 L1948.7,1391.9 L1946.8,1391.4 L1944.9,1390.8 L1942.9,1390.3 L1941.0,1389.8 L1939.1,1389.3 L1937.2,1388.7 L1935.3,1388.2 L1933.4,1387.6 L1931.5,1387.1 L1929.6,1386.5 L1927.7,1386.0 L1925.8,1385.4 L1923.9,1384.8 L1922.0,1384.3 L1920.1,1383.7 L1918.2,1383.1 L1916.3,1382.5 L1914.4,1382.0 L1912.5,1381.4 L1910.6,1380.8 L1908.7,1380.2 L1906.8,1379.6 L1904.9,1379.0 L1903.0,1378.3 L1901.1,1377.7 L1899.2,1377.1 L1897.4,1376.5 L1895.5,1375.8 L1893.6,1375.2 L1891.7,1374.6 L1889.8,1373.9 L1888.0,1373.3 L1886.1,1372.6 L1884.2,1372.0 L1882.3,1371.3 L1880.5,1370.6 L1878.6,1370.0 L1876.7,1369.3 L1874.8,1368.6 L1873.0,1367.9 L1871.1,1367.3 L1869.2,1366.6 L1867.3,1365.9 L1865.4,1365.2 L1863.5,1364.6 L1861.6,1363.9 L1859.7,1363.2 L1857.8,1362.6 L1855.9,1361.9 L1854.0,1361.3 L1852.1,1360.6 L1850.2,1360.0 L1848.3,1359.3 L1846.4,1358.7 L1844.5,1358.1 L1842.6,1357.4 L1840.7,1356.8 L1838.8,1356.2 L1836.8,1355.6 L1834.9,1355.0 L1833.0,1354.4 L1831.1,1353.8 L1829.2,1353.2 L1827.3,1352.6 L1825.3,1352.0 L1823.4,1351.5 L1821.5,1350.9 L1819.6,1350.3 L1817.7,1349.7 L1815.7,1349.1 L1813.8,1348.6 L1811.9,1348.0 L1810.0,1347.4 L1808.1,1346.9 L1806.1,1346.3 L1804.2,1345.7 L1802.3,1345.2 L1800.4,1344.6 L1798.5,1344.1 L1796.5,1343.5 L1794.6,1342.9 L1792.7,1342.4 L1790.8,1341.8 L1788.9,1341.2 L1787.0,1340.7 L1785.1,1340.1 L1783.1,1339.5 L1781.2,1339.0 L1779.3,1338.4 L1777.4,1337.8 L1775.5,1337.3 L1773.6,1336.7 L1771.7,1336.1 L1769.7,1335.5 L1767.8,1335.0 L1765.9,1334.4 L1764.0,1333.8 L1762.1,1333.2 L1760.2,1332.7 L1758.3,1332.1 L1756.4,1331.5 L1754.5,1330.9 L1752.5,1330.3 L1750.6,1329.8 L1748.7,1329.2 L1746.8,1328.6 L1744.9,1328.0 L1743.0,1327.4 L1741.1,1326.8 L1739.2,1326.2 L1737.3,1325.7 L1735.4,1325.1 L1733.4,1324.5 L1731.5,1323.9 L1729.6,1323.3 L1727.7,1322.7 L1725.8,1322.1 L1723.9,1321.5 L1722.0,1320.9 L1720.1,1320.3 L1718.2,1319.7 L1716.3,1319.1 L1714.4,1318.5 L1712.5,1317.9 L1710.6,1317.3 L1708.7,1316.7 L1706.7,1316.1 L1704.8,1315.5 L1702.9,1314.9 L1701.0,1314.3 L1699.1,1313.7 L1697.2,1313.1 L1695.3,1312.5 L1693.4,1311.9 L1691.5,1311.3 L1689.6,1310.7 L1687.7,1310.1 L1685.8,1309.5 L1683.9,1308.9 L1682.0,1308.2 L1680.1,1307.6 L1678.2,1307.0 L1676.3,1306.4 L1674.4,1305.8 L1672.5,1305.2 L1670.6,1304.6 L1668.7,1303.9 L1666.8,1303.3 L1664.9,1302.7 L1663.0,1302.1 L1661.1,1301.5 L1659.2,1300.8 L1657.3,1300.2 L1655.4,1299.6 L1653.5,1299.0 L1651.6,1298.3 L1649.7,1297.7 L1647.8,1297.1 L1645.9,1296.5 L1644.0,1295.8 L1642.1,1295.2 L1640.2,1294.6 L1638.3,1293.9 L1636.4,1293.3 L1634.5,1292.7 L1632.6,1292.1 L1630.7,1291.4 L1628.8,1290.8 L1627.0,1290.1 L1625.1,1289.5 L1623.2,1288.9 L1621.3,1288.2 L1619.4,1287.6 L1617.5,1287.0 L1615.6,1286.3 L1613.7,1285.7 L1611.8,1285.0 L1609.9,1284.4 L1608.0,1283.7 L1606.1,1283.1 L1604.2,1282.5 L1602.4,1281.8 L1600.5,1281.2 L1598.6,1280.5 L1596.7,1279.9 L1594.8,1279.2 L1592.9,1278.6 L1591.0,1277.9 L1589.1,1277.3 L1587.2,1276.6 L1585.4,1276.0 L1583.5,1275.3 L1581.6,1274.6 L1579.7,1274.0 L1577.8,1273.3 L1575.9,1272.7 L1574.0,1272.0 L1572.1,1271.4 L1570.3,1270.7 L1568.4,1270.0 L1566.5,1269.4 L1564.6,1268.7 L1562.7,1268.1 L1560.8,1267.4 L1559.0,1266.7 L1557.1,1266.1 L1555.2,1265.4 L1553.3,1264.7 L1551.4,1264.1 L1549.5,1263.4 L1547.7,1262.7 L1545.8,1262.1 L1543.9,1261.4 L1542.0,1260.7 L1540.1,1260.0 L1538.3,1259.4 L1536.4,1258.7 L1534.5,1258.0 L1532.6,1257.3 L1530.7,1256.7 L1528.9,1256.0 L1527.0,1255.3 L1525.1,1254.6 L1523.2,1253.9 L1521.4,1253.3 L1519.5,1252.6 L1517.6,1251.9 L1515.7,1251.2 L1513.8,1250.5 L1512.0,1249.8 L1510.1,1249.1 L1508.2,1248.5 L1506.4,1247.8 L1504.5,1247.1 L1502.6,1246.4 L1500.7,1245.7 L1498.9,1245.0 L1497.0,1244.3 L1495.1,1243.6 L1493.2,1242.9 L1491.4,1242.2 L1489.5,1241.5 L1487.6,1240.8 L1485.8,1240.1 L1483.9,1239.4 L1482.0,1238.7 L1480.2,1238.0 L1478.3,1237.3 L1476.4,1236.6 L1474.6,1235.9 L1472.7,1235.2 L1470.8,1234.5 L1469.0,1233.8 L1467.1,1233.1 L1465.2,1232.4 L1463.4,1231.7 L1461.5,1231.0 L1459.6,1230.2 L1457.8,1229.5 L1455.9,1228.8 L1454.0,1228.1 L1452.2,1227.4 L1450.3,1226.7 L1448.4,1225.9 L1446.6,1225.2 L1444.7,1224.5 L1442.9,1223.8 L1441.0,1223.1 L1439.1,1222.3 L1437.3,1221.6 L1435.4,1220.9 L1433.6,1220.2 L1431.7,1219.4 L1429.8,1218.7 L1428.0,1218.0 L1426.1,1217.2 L1424.3,1216.5 L1422.4,1215.8 L1420.6,1215.0 L1418.7,1214.3 L1416.9,1213.6 L1415.0,1212.8 L1413.1,1212.1 L1411.3,1211.3 L1409.4,1210.6 L1407.6,1209.9 L1405.7,1209.1 L1403.9,1208.4 L1402.0,1207.6 L1400.2,1206.9 L1398.3,1206.1 L1396.5,1205.4 L1394.6,1204.6 L1392.8,1203.9 L1390.9,1203.1 L1389.1,1202.4 L1387.2,1201.6 L1385.4,1200.9 L1383.5,1200.1 L1381.7,1199.3 L1379.8,1198.6 L1378.0,1197.8 L1376.2,1197.1 L1374.3,1196.3 L1372.5,1195.5 L1370.6,1194.8 L1368.8,1194.0 L1366.9,1193.2 L1365.1,1192.5 L1363.2,1191.7 L1361.4,1190.9 L1359.6,1190.2 L1357.7,1189.4 L1355.9,1188.6 L1354.0,1187.8 L1352.2,1187.1 L1350.4,1186.3 L1348.5,1185.5 L1346.7,1184.7 L1344.9,1183.9 L1343.0,1183.1 L1341.2,1182.3 L1339.4,1181.6 L1337.5,1180.8 L1335.7,1180.0 L1333.9,1179.2 L1332.1,1178.3 L1330.2,1177.5 L1328.4,1176.7 L1326.6,1175.9 L1324.8,1175.1 L1323.0,1174.2 L1321.1,1173.4 L1319.3,1172.6 L1317.5,1171.7 L1315.7,1170.9 L1313.9,1170.0 L1312.1,1169.1 L1310.4,1168.2 L1308.6,1167.3 L1306.9,1166.4 L1305.1,1165.5 L1303.4,1164.6 L1301.7,1163.6 L1300.0,1162.7 L1298.4,1161.7 L1296.8,1160.7 L1295.2,1159.6 L1293.6,1158.6 L1292.0,1157.5 L1290.5,1156.4 L1289.0,1155.3 L1287.6,1154.2 L1286.1,1153.0 L1284.8,1151.8 L1283.4,1150.6 L1282.1,1149.3 L1280.7,1148.1 L1279.5,1146.8 L1278.2,1145.4 L1277.0,1144.1 L1275.8,1142.7 L1274.6,1141.3 L1273.5,1139.8 L1272.4,1138.4 L1271.3,1136.9 L1270.2,1135.3 L1269.2,1133.8 L1268.1,1132.3 L1267.2,1130.7 L1266.2,1129.1 L1265.3,1127.5 L1264.4,1125.8 L1263.5,1124.1 L1262.7,1122.5 L1261.8,1120.8 L1261.0,1119.1 L1260.3,1117.3 L1259.5,1115.6 L1258.8,1113.8 L1258.1,1112.0 L1257.4,1110.2 L1256.7,1108.4 L1256.1,1106.6 L1255.5,1104.7 L1254.9,1102.9 L1254.3,1101.0 L1253.7,1099.1 L1253.2,1097.2 L1252.6,1095.3 L1252.1,1093.4 L1251.6,1091.5 L1251.1,1089.6 L1250.6,1087.6 L1250.1,1085.7 L1249.7,1083.7 L1249.2,1081.8 L1248.8,1079.8 L1248.3,1077.8 L1247.9,1075.9 L1247.5,1073.9 L1247.0,1071.9 L1246.6,1069.9 L1246.2,1068.0 L1245.8,1066.0 L1245.3,1064.0 L1244.9,1062.0 L1244.5,1060.1 L1244.1,1058.1 L1243.7,1056.1 L1243.3,1054.2 L1242.9,1052.2 L1242.5,1050.2 L1242.1,1048.2 L1241.7,1046.3 L1241.3,1044.3 L1240.9,1042.4 L1240.5,1040.4 L1240.1,1038.4 L1239.8,1036.5 L1239.4,1034.5 L1239.0,1032.5 L1238.6,1030.6 L1238.2,1028.6 L1237.9,1026.7 L1237.5,1024.7 L1237.1,1022.7 L1236.8,1020.8 L1236.4,1018.8 L1236.1,1016.9 L1235.7,1014.9 L1235.4,1012.9 L1235.0,1011.0 L1234.7,1009.0 L1234.3,1007.1 L1234.0,1005.1 L1233.6,1003.1 L1233.3,1001.2 L1232.9,999.2 L1232.6,997.3 L1232.3,995.3 L1231.9,993.4 L1231.6,991.4 L1231.3,989.4 L1230.9,987.5 L1230.6,985.5 L1230.3,983.6 L1230.0,981.6 L1229.7,979.7 L1229.3,977.7 L1229.0,975.7 L1228.7,973.8 L1228.4,971.8 L1228.1,969.9 L1227.8,967.9 L1227.5,965.9 L1227.2,964.0 L1226.9,962.0 L1226.6,960.0 L1226.3,958.1 L1226.0,956.1 L1225.7,954.2 L1225.4,952.2 L1225.1,950.2 L1224.8,948.3 L1224.5,946.3 L1224.2,944.3 L1223.9,942.3 L1223.7,940.4 L1223.4,938.4 L1223.1,936.4 L1222.8,934.5 L1222.5,932.5 L1222.3,930.5 L1222.0,928.5 L1221.7,926.6 L1221.4,924.6 L1221.2,922.6 L1220.9,920.6 L1220.6,918.7 L1220.3,916.7 L1220.1,914.7 L1219.8,912.7 L1219.5,910.8 L1219.3,908.8 L1219.0,906.8 L1218.7,904.8 L1218.5,902.8 L1218.2,900.9 L1217.9,898.9 L1217.7,896.9 L1217.4,894.9 L1217.2,892.9 L1216.9,890.9 L1216.6,889.0 L1216.4,887.0 L1216.1,885.0 L1215.8,883.0 L1215.6,881.0 L1215.3,879.0 L1215.1,877.0 L1214.8,875.1 L1214.5,873.1 L1214.3,871.1 L1214.0,869.1 L1213.8,867.1 L1213.5,865.1 L1213.2,863.1 L1213.0,861.2 L1212.7,859.2 L1212.5,857.2 L1212.2,855.2 L1211.9,853.2 L1211.7,851.2 L1211.4,849.2 L1211.2,847.2 L1210.9,845.3 L1210.6,843.3 L1210.4,841.3 L1210.1,839.3 L1209.8,837.3 L1209.6,835.3 L1209.3,833.3 L1209.0,831.3 L1208.8,829.3 L1208.5,827.4 L1208.2,825.4 L1208.0,823.4 L1207.7,821.4 L1207.4,819.4 L1207.1,817.4 L1206.9,815.4 L1206.6,813.4 L1206.3,811.5 L1206.0,809.5 L1205.8,807.5 L1205.5,805.5 L1205.2,803.5 L1204.9,801.5 L1204.6,799.5 L1204.3,797.6 L1204.0,795.6 L1203.8,793.6 L1203.5,791.6 L1203.2,789.6 L1202.9,787.6 L1202.6,785.6 L1202.3,783.7 L1202.0,781.7 L1201.7,779.7 L1201.4,777.7 L1201.1,775.7 L1200.8,773.8 L1200.4,771.8 L1200.1,769.8 L1199.8,767.8 L1199.5,765.8 L1199.2,763.9 L1198.9,761.9 L1198.5,759.9 L1198.2,757.9 L1197.9,755.9 L1197.6,754.0 L1197.2,752.0 L1196.9,750.0 L1196.6,748.0 L1196.2,746.1 L1195.9,744.1 L1195.6,742.1 L1195.2,740.1 L1194.9,738.2 L1194.5,736.2 L1194.2,734.2 L1193.9,732.3 L1193.5,730.3 L1193.2,728.3 L1192.8,726.4 L1192.5,724.4 L1192.1,722.4 L1191.8,720.4 L1191.4,718.5 L1191.1,716.5 L1190.7,714.5 L1190.3,712.6 L1190.0,710.6 L1189.6,708.6 L1189.3,706.7 L1188.9,704.7 L1188.5,702.7 L1188.2,700.8 L1187.8,698.8 L1187.5,696.8 L1187.1,694.9 L1186.7,692.9 L1186.4,690.9 L1186.0,689.0 L1185.6,687.0 L1185.3,685.0 L1184.9,683.1 L1184.5,681.1 L1184.2,679.2 L1183.8,677.2 L1183.4,675.2 L1183.0,673.3 L1182.7,671.3 L1182.3,669.3 L1181.9,667.4 L1181.6,665.4 L1181.2,663.4 L1180.8,661.5 L1180.5,659.5 L1180.1,657.5 L1179.7,655.6 L1179.3,653.6 L1179.0,651.6 L1178.6,649.7 L1178.2,647.7 L1177.9,645.7 L1177.5,643.8 L1177.1,641.8 L1176.7,639.8 L1176.4,637.8 L1176.0,635.9 L1175.6,633.9 L1175.2,631.9 L1174.9,630.0 L1174.5,628.0 L1174.1,626.0 L1173.7,624.0 L1173.3,622.1 L1173.0,620.1 L1172.6,618.1 L1172.2,616.2 L1171.8,614.2 L1171.4,612.2 L1171.0,610.3 L1170.6,608.3 L1170.2,606.3 L1169.8,604.3 L1169.4,602.4 L1168.9,600.4 L1168.5,598.4 L1168.1,596.5 L1167.7,594.5 L1167.3,592.5 L1166.8,590.6 L1166.4,588.6 L1165.9,586.6 L1165.5,584.7 L1165.1,582.7 L1164.6,580.8 L1164.1,578.8 L1163.7,576.8 L1163.2,574.9 L1162.7,572.9 L1162.3,571.0 L1161.8,569.0 L1161.3,567.1 L1160.8,565.1 L1160.3,563.2 L1159.8,561.2 L1159.3,559.3 L1158.8,557.3 L1158.2,555.4 L1157.7,553.4 L1157.2,551.5 L1156.6,549.5 L1156.1,547.6 L1155.5,545.7 L1154.9,543.7 L1154.4,541.8 L1153.8,539.9 L1153.2,537.9 L1152.6,536.0 L1152.0,534.1 L1151.4,532.1 L1150.8,530.2 L1150.2,528.3 L1149.5,526.4 L1148.9,524.5 L1148.3,522.6 L1147.6,520.6 L1146.9,518.7 L1146.3,516.8 L1145.6,514.9 L1144.9,513.0 L1144.2,511.1 L1143.5,509.2 L1142.8,507.3 L1142.1,505.5 L1141.4,503.6 L1140.6,501.7 L1139.9,499.8 L1139.2,497.9 L1138.4,496.0 L1137.6,494.2 L1136.9,492.3 L1136.1,490.4 L1135.3,488.6 L1134.5,486.7 L1133.8,484.8 L1133.0,483.0 L1132.2,481.1 L1131.3,479.3 L1130.5,477.4 L1129.7,475.6 L1128.9,473.8 L1128.0,471.9 L1127.2,470.1 L1126.3,468.2 L1125.5,466.4 L1124.6,464.6 L1123.8,462.8 L1122.9,460.9 L1122.0,459.1 L1121.1,457.3 L1120.2,455.5 L1119.3,453.7 L1118.4,451.9 L1117.5,450.1 L1116.6,448.3 L1115.7,446.5 L1114.8,444.7 L1113.8,442.9 L1112.9,441.1 L1112.0,439.3 L1111.0,437.5 L1110.1,435.8 L1109.1,434.0 L1108.1,432.2 L1107.2,430.5 L1106.2,428.7 L1105.2,426.9 L1104.2,425.2 L1103.2,423.4 L1102.2,421.7 L1101.2,419.9 L1100.2,418.2 L1099.2,416.4 L1098.1,414.7 L1097.1,412.9 L1096.1,411.2 L1095.0,409.5 L1094.0,407.8 L1092.9,406.0 L1091.9,404.3 L1090.8,402.6 L1089.8,400.9 L1088.7,399.2 L1087.6,397.5 L1086.5,395.8 L1085.4,394.1 L1084.3,392.4 L1083.2,390.7 L1082.1,389.0 L1081.0,387.3 L1079.9,385.6 L1078.7,384.0 L1077.6,382.3 L1076.5,380.6 L1075.3,379.0 L1074.2,377.3 L1073.0,375.6 L1071.8,374.0 L1070.7,372.3 L1069.5,370.7 L1068.3,369.1 L1067.1,367.4 L1065.9,365.8 L1064.7,364.2 L1063.5,362.6 L1062.2,360.9 L1061.0,359.3 L1059.8,357.7 L1058.5,356.1 L1057.3,354.6 L1056.0,353.0 L1054.8,351.4 L1053.5,349.8 L1052.2,348.2 L1050.9,346.7 L1049.6,345.1 L1048.3,343.6 L1047.0,342.0 L1045.7,340.5 L1044.3,339.0 L1043.0,337.5 L1041.6,336.0 L1040.3,334.4 L1038.9,332.9 L1037.5,331.5 L1036.2,330.0 L1034.8,328.5 L1033.4,327.0 L1032.0,325.6 L1030.5,324.1 L1029.1,322.7 L1027.7,321.2 L1026.2,319.8 L1024.8,318.4 L1023.3,317.0 L1021.9,315.6 L1020.4,314.2 L1018.9,312.8 L1017.4,311.4 L1015.9,310.0 L1014.4,308.7 L1012.8,307.3 L1011.3,306.0 L1009.7,304.6 L1008.2,303.3 L1006.6,302.0 L1005.1,300.7 L1003.5,299.4 L1001.9,298.1 L1000.3,296.9 L998.7,295.6 L997.1,294.3 L995.5,293.1 L993.8,291.9 L992.2,290.7 L990.5,289.4 L988.9,288.2 L987.2,287.1 L985.5,285.9 L983.9,284.7 L982.2,283.6 L980.5,282.4 L978.8,281.3 L977.1,280.2 L975.4,279.1 L973.6,278.0 L971.9,276.9 L970.1,275.9 L968.4,274.8 L966.6,273.8 L964.9,272.8 L963.1,271.7 L961.3,270.7 L959.5,269.8 L957.7,268.8 L955.9,267.8 L954.1,266.9 L952.3,266.0 L950.5,265.0 L948.7,264.1 L946.8,263.3 L945.0,262.4 L943.2,261.5 L941.3,260.7 L939.4,259.8 L937.6,259.0 L935.7,258.2 L933.8,257.4 L931.9,256.7 L930.1,255.9 L928.2,255.2 L926.3,254.4 L924.4,253.7 L922.5,253.0 L920.6,252.3 L918.6,251.6 L916.7,251.0 L914.8,250.3 L912.9,249.7 L911.0,249.0 L909.0,248.4 L907.1,247.8 L905.2,247.2 L903.2,246.6 L901.3,246.0 L899.3,245.5 L897.4,244.9 L895.5,244.4 L893.5,243.8 L891.6,243.3 L889.6,242.8 L887.6,242.2 L885.7,241.7 L883.7,241.2 L881.8,240.7 L879.8,240.3 L877.9,239.8 L875.9,239.3 L873.9,238.9 L872.0,238.4 L870.0,238.0 L868.0,237.5 L866.1,237.1 L864.1,236.7 L862.1,236.2 L860.2,235.8 L858.2,235.4 L856.2,235.0 L854.3,234.6 L852.3,234.2 L850.3,233.8 L848.3,233.5 L846.4,233.1 L844.4,232.7 L842.4,232.4 L840.4,232.0 L838.4,231.7 L836.5,231.3 L834.5,231.0 L832.5,230.6 L830.5,230.3 L828.5,230.0 L826.6,229.7 L824.6,229.3 L822.6,229.0 L820.6,228.7 L818.6,228.4 L816.6,228.1 L814.6,227.8 L812.7,227.5 L810.7,227.2 L808.7,227.0 L806.7,226.7 L804.7,226.4 L802.7,226.1 L800.7,225.9 L798.7,225.6 L796.7,225.3 L794.8,225.1 L792.8,224.8 L790.8,224.6 L788.8,224.3 L786.8,224.0 L784.8,223.8 L782.8,223.6 L780.8,223.3 L778.8,223.1 L776.8,222.8 L774.8,222.6 L772.8,222.4 L770.8,222.1 L768.9,221.9 L766.9,221.7 L764.9,221.4 L762.9,221.2 L760.9,221.0 L758.9,220.8 L756.9,220.5 L754.9,220.3 L752.9,220.1 L750.9,219.9 L748.9,219.6 L746.9,219.4 L744.9,219.2 L742.9,219.0 L741.0,218.8 L739.0,218.6 L737.0,218.3 L735.0,218.1 L733.0,217.9 L731.0,217.7 L729.0,217.5 L727.0,217.3 L725.0,217.0 L723.0,216.8 L721.0,216.6 L719.0,216.4 L717.1,216.2 L715.1,216.0 L713.1,215.8 L711.1,215.5 L709.1,215.3 L707.1,215.1 L705.1,214.9 L703.1,214.7 L701.2,214.4 L699.2,214.2 L697.2,214.0 L695.2,213.8 L693.2,213.5 L691.2,213.3 L689.2,213.1 L687.3,212.8 L685.3,212.6 L683.3,212.4 L681.3,212.1 L679.3,211.9 L677.3,211.7 L675.4,211.4 L673.4,211.2 L671.4,210.9 L669.4,210.7 L667.4,210.4 L665.5,210.2 L663.5,209.9 L661.5,209.7 L659.5,209.4 L657.6,209.1 L655.6,208.9 L653.6,208.6 L651.6,208.3 L649.7,208.1 L647.7,207.8 L645.7,207.5 L643.8,207.2 L641.8,206.9 L639.8,206.7 L637.8,206.4 L635.9,206.1 L633.9,205.8 L631.9,205.5 L630.0,205.2 L628.0,204.8 L626.1,204.5 L624.1,204.2 L622.1,203.9 L620.2,203.6 L618.2,203.2 L616.3,202.9 L614.3,202.6 L612.3,202.2 L610.4,201.9 L608.4,201.5 L606.5,201.2 L604.5,200.8 L602.6,200.4 L600.6,200.1 L598.7,199.7 L596.7,199.3 L594.8,198.9 L592.9,198.5 L590.9,198.1 L589.0,197.7 L587.0,197.3 L585.1,196.9 L583.1,196.5 L581.2,196.1 L579.3,195.6 L577.3,195.2 L575.4,194.8 L573.5,194.3 L571.5,193.9 L569.6,193.4 L567.7,192.9 L565.8,192.5 L563.8,192.0 L561.9,191.5 L560.0,191.0 L558.1,190.5 L556.1,190.0 L554.2,189.5 L552.3,189.0 L550.4,188.5 L548.5,187.9 L546.6,187.4 L544.7,186.8 L542.8,186.3 L540.9,185.7 L539.0,185.1 L537.2,184.5 L535.3,183.9 L533.5,183.3 L531.6,182.6 L529.8,182.0 L528.0,181.3 L526.2,180.6 L524.4,179.9 L522.6,179.2 L520.8,178.4 L519.1,177.6 L517.3,176.9 L515.6,176.0 L513.9,175.2 L512.1,174.3 L510.4,173.5 L508.7,172.6 L507.0,171.6 L505.3,170.7 L503.6,169.7 L502.0,168.8 L500.3,167.8 L498.6,166.8 L497.0,165.7 L495.3,164.7 L493.7,163.6 L492.0,162.6 L490.4,161.5 L488.7,160.4 L487.1,159.3 L485.5,158.2 L483.9,157.1 L482.2,155.9 L480.6,154.8 L479.0,153.6 L477.4,152.5 L475.8,151.3 L474.2,150.1 L472.6,149.0 L471.0,147.8 L469.4,146.6 L467.8,145.4 L466.2,144.2 L464.6,143.0 L463.1,141.8 L461.5,140.6 L459.9,139.4 L458.4,138.2 L456.8,136.9 L455.3,135.7 L453.8,134.5 L452.2,133.2 L450.7,132.0 L449.2,130.7 L447.7,129.4 L446.2,128.2 L444.7,126.9 L443.3,125.6 L441.8,124.3 L440.3,123.0 L438.9,121.7 L437.5,120.3 L436.0,119.0 L434.6,117.7 L433.2,116.3 L431.8,115.0 L430.4,113.6 L429.1,112.2 L427.7,110.8 L426.4,109.4 L425.0,108.0Z"/>
<path clip-path="url(#cb)" fill="#00f" d="M400.4,115.7 L401.8,117.1 L403.3,118.4 L404.7,119.8 L406.2,121.2 L407.6,122.6 L409.1,123.9 L410.5,125.3 L412.0,126.7 L413.4,128.0 L414.9,129.4 L416.4,130.8 L417.8,132.1 L419.3,133.5 L420.8,134.8 L422.3,136.2 L423.7,137.5 L425.2,138.9 L426.7,140.3 L428.2,141.6 L429.7,142.9 L431.2,144.3 L432.6,145.6 L434.1,147.0 L435.6,148.3 L437.1,149.6 L438.7,151.0 L440.2,152.3 L441.7,153.6 L443.2,154.9 L444.7,156.3 L446.2,157.6 L447.8,158.9 L449.3,160.2 L450.8,161.5 L452.4,162.8 L453.9,164.1 L455.5,165.4 L457.0,166.7 L458.6,168.0 L460.2,169.3 L461.7,170.5 L463.3,171.8 L464.9,173.1 L466.5,174.3 L468.1,175.6 L469.7,176.9 L471.3,178.1 L472.9,179.4 L474.5,180.6 L476.1,181.8 L477.7,183.1 L479.4,184.3 L481.0,185.5 L482.6,186.7 L484.3,188.0 L486.0,189.2 L487.6,190.3 L489.3,191.5 L491.0,192.7 L492.7,193.9 L494.4,195.0 L496.2,196.1 L497.9,197.2 L499.6,198.3 L501.4,199.4 L503.2,200.5 L504.9,201.5 L506.7,202.5 L508.5,203.5 L510.4,204.5 L512.2,205.5 L514.0,206.4 L515.9,207.3 L517.8,208.2 L519.6,209.0 L521.5,209.8 L523.4,210.6 L525.4,211.4 L527.3,212.1 L529.3,212.8 L531.2,213.4 L533.2,214.1 L535.2,214.7 L537.2,215.2 L539.2,215.7 L541.2,216.2 L543.2,216.7 L545.2,217.1 L547.3,217.5 L549.3,217.9 L551.3,218.3 L553.3,218.6 L555.4,218.9 L557.4,219.2 L559.4,219.5 L561.4,219.8 L563.5,220.1 L565.5,220.3 L567.5,220.6 L569.5,220.8 L571.5,221.1 L573.5,221.3 L575.5,221.5 L577.5,221.7 L579.6,221.9 L581.6,222.1 L583.6,222.3 L585.6,222.5 L587.6,222.7 L589.6,222.9 L591.6,223.1 L593.6,223.3 L595.6,223.5 L597.6,223.6 L599.6,223.8 L601.6,223.9 L603.6,224.1 L605.6,224.3 L607.6,224.4 L609.7,224.5 L611.7,224.7 L613.7,224.8 L615.7,225.0 L617.7,225.1 L619.7,225.2 L621.7,225.3 L623.7,225.5 L625.7,225.6 L627.7,225.7 L629.7,225.8 L631.7,225.9 L633.7,226.0 L635.7,226.1 L637.7,226.2 L639.7,226.3 L641.7,226.4 L643.7,226.5 L645.7,226.6 L647.7,226.7 L649.7,226.7 L651.7,226.8 L653.7,226.9 L655.6,227.0 L657.6,227.1 L659.6,227.1 L661.6,227.2 L663.6,227.3 L665.6,227.3 L667.6,227.4 L669.6,227.5 L671.6,227.5 L673.6,227.6 L675.6,227.7 L677.6,227.7 L679.6,227.8 L681.6,227.9 L683.6,227.9 L685.6,228.0 L687.6,228.0 L689.6,228.1 L691.6,228.2 L693.5,228.2 L695.5,228.3 L697.5,228.3 L699.5,228.4 L701.5,228.4 L703.5,228.5 L705.5,228.6 L707.5,228.6 L709.5,228.7 L711.5,228.7 L713.5,228.8 L715.5,228.9 L717.5,228.9 L719.4,229.0 L721.4,229.1 L723.4,229.1 L725.4,229.2 L727.4,229.3 L729.4,229.3 L731.4,229.4 L733.4,229.5 L735.4,229.5 L737.4,229.6 L739.4,229.7 L741.3,229.8 L743.3,229.9 L745.3,229.9 L747.3,230.0 L749.3,230.1 L751.3,230.2 L753.3,230.3 L755.3,230.4 L757.3,230.5 L759.3,230.6 L761.3,230.7 L763.2,230.8 L765.2,230.9 L767.2,231.0 L769.2,231.1 L771.2,231.3 L773.2,231.4 L775.2,231.5 L777.2,231.6 L779.2,231.8 L781.2,231.9 L783.2,232.0 L785.1,232.2 L787.1,232.3 L789.1,232.5 L791.1,232.6 L793.1,232.8 L795.1,233.0 L797.1,233.1 L799.1,233.3 L801.1,233.5 L803.1,233.7 L805.1,233.8 L807.1,234.0 L809.0,234.2 L811.0,234.4 L813.0,234.6 L815.0,234.8 L817.0,235.1 L819.0,235.3 L821.0,235.5 L823.0,235.7 L825.0,236.0 L827.0,236.2 L829.0,236.5 L830.9,236.7 L832.9,237.0 L834.9,237.3 L836.9,237.6 L838.9,237.8 L840.8,238.1 L842.8,238.5 L844.8,238.8 L846.8,239.1 L848.7,239.4 L850.7,239.8 L852.6,240.1 L854.6,240.5 L856.5,240.9 L858.5,241.3 L860.4,241.6 L862.3,242.1 L864.3,242.5 L866.2,242.9 L868.1,243.3 L870.0,243.8 L871.9,244.3 L873.9,244.8 L875.7,245.2 L877.6,245.8 L879.5,246.3 L881.4,246.8 L883.3,247.4 L885.1,247.9 L887.0,248.5 L888.9,249.1 L890.7,249.7 L892.5,250.3 L894.4,251.0 L896.2,251.6 L898.0,252.3 L899.8,253.0 L901.6,253.7 L903.4,254.4 L905.2,255.1 L907.0,255.9 L908.7,256.7 L910.5,257.4 L912.2,258.2 L914.0,259.1 L915.7,259.9 L917.4,260.8 L919.1,261.7 L920.8,262.5 L922.5,263.5 L924.2,264.4 L925.8,265.4 L927.5,266.3 L929.1,267.3 L930.8,268.3 L932.4,269.4 L934.0,270.4 L935.6,271.5 L937.2,272.6 L938.7,273.7 L940.3,274.9 L941.8,276.0 L943.3,277.2 L944.8,278.4 L946.3,279.6 L947.8,280.8 L949.2,282.1 L950.6,283.4 L952.0,284.7 L953.4,286.0 L954.7,287.4 L956.1,288.7 L957.4,290.1 L958.7,291.5 L960.0,292.9 L961.3,294.4 L962.5,295.9 L963.8,297.3 L965.0,298.8 L966.2,300.3 L967.4,301.9 L968.6,303.4 L969.7,305.0 L970.9,306.5 L972.0,308.1 L973.1,309.7 L974.3,311.3 L975.3,312.9 L976.4,314.5 L977.5,316.1 L978.6,317.8 L979.6,319.4 L980.6,321.0 L981.7,322.7 L982.7,324.4 L983.7,326.1 L984.6,327.7 L985.6,329.4 L986.6,331.2 L987.5,332.9 L988.5,334.6 L989.4,336.3 L990.3,338.0 L991.3,339.8 L992.2,341.5 L993.1,343.3 L994.0,345.1 L994.8,346.8 L995.7,348.6 L996.6,350.4 L997.4,352.2 L998.3,354.0 L999.1,355.8 L1000.0,357.6 L1000.8,359.4 L1001.6,361.2 L1002.4,363.0 L1003.2,364.8 L1004.1,366.6 L1004.9,368.5 L1005.7,370.3 L1006.5,372.1 L1007.2,373.9 L1008.0,375.8 L1008.8,377.6 L1009.6,379.5 L1010.4,381.3 L1011.2,383.2 L1011.9,385.0 L1012.7,386.9 L1013.5,388.7 L1014.2,390.6 L1015.0,392.4 L1015.8,394.3 L1016.5,396.1 L1017.3,398.0 L1018.0,399.8 L1018.8,401.7 L1019.6,403.5 L1020.3,405.4 L1021.1,407.2 L1021.8,409.1 L1022.6,410.9 L1023.3,412.8 L1024.1,414.7 L1024.8,416.5 L1025.5,418.4 L1026.3,420.2 L1027.0,422.1 L1027.8,423.9 L1028.5,425.8 L1029.2,427.6 L1030.0,429.5 L1030.7,431.4 L1031.4,433.2 L1032.2,435.1 L1032.9,436.9 L1033.6,438.8 L1034.3,440.7 L1035.1,442.5 L1035.8,444.4 L1036.5,446.2 L1037.2,448.1 L1038.0,450.0 L1038.7,451.8 L1039.4,453.7 L1040.1,455.5 L1040.8,457.4 L1041.6,459.3 L1042.3,461.1 L1043.0,463.0 L1043.7,464.8 L1044.4,466.7 L1045.1,468.6 L1045.8,470.4 L1046.5,472.3 L1047.3,474.2 L1048.0,476.0 L1048.7,477.9 L1049.4,479.8 L1050.1,481.6 L1050.8,483.5 L1051.5,485.3 L1052.2,487.2 L1052.9,489.1 L1053.6,490.9 L1054.3,492.8 L1055.0,494.7 L1055.7,496.5 L1056.4,498.4 L1057.1,500.3 L1057.8,502.1 L1058.6,504.0 L1059.3,505.9 L1060.0,507.7 L1060.7,509.6 L1061.4,511.5 L1062.1,513.3 L1062.8,515.2 L1063.5,517.1 L1064.2,519.0 L1064.9,520.8 L1065.6,522.7 L1066.3,524.6 L1067.0,526.4 L1067.7,528.3 L1068.4,530.2 L1069.1,532.0 L1069.8,533.9 L1070.5,535.8 L1071.2,537.6 L1071.9,539.5 L1072.6,541.4 L1073.3,543.3 L1074.0,545.1 L1074.7,547.0 L1075.4,548.9 L1076.1,550.7 L1076.8,552.6 L1077.5,554.5 L1078.2,556.3 L1078.9,558.2 L1079.6,560.1 L1080.3,562.0 L1081.1,563.8 L1081.8,565.7 L1082.5,567.6 L1083.2,569.4 L1083.9,571.3 L1084.6,573.2 L1085.3,575.0 L1086.0,576.9 L1086.7,578.8 L1087.4,580.7 L1088.1,582.5 L1088.8,584.4 L1089.4,586.3 L1090.1,588.2 L1090.8,590.0 L1091.5,591.9 L1092.2,593.8 L1092.9,595.6 L1093.6,597.5 L1094.3,599.4 L1095.0,601.3 L1095.7,603.1 L1096.4,605.0 L1097.1,606.9 L1097.7,608.8 L1098.4,610.6 L1099.1,612.5 L1099.8,614.4 L1100.5,616.3 L1101.2,618.1 L1101.8,620.0 L1102.5,621.9 L1103.2,623.8 L1103.9,625.7 L1104.5,627.5 L1105.2,629.4 L1105.9,631.3 L1106.6,633.2 L1107.2,635.1 L1107.9,636.9 L1108.6,638.8 L1109.2,640.7 L1109.9,642.6 L1110.5,644.5 L1111.2,646.4 L1111.9,648.2 L1112.5,650.1 L1113.2,652.0 L1113.8,653.9 L1114.5,655.8 L1115.1,657.7 L1115.8,659.6 L1116.4,661.4 L1117.0,663.3 L1117.7,665.2 L1118.3,667.1 L1118.9,669.0 L1119.6,670.9 L1120.2,672.8 L1120.8,674.7 L1121.5,676.6 L1122.1,678.5 L1122.7,680.4 L1123.3,682.2 L1124.0,684.1 L1124.6,686.0 L1125.2,687.9 L1125.8,689.8 L1126.4,691.7 L1127.0,693.6 L1127.6,695.5 L1128.2,697.4 L1128.8,699.3 L1129.4,701.2 L1130.0,703.1 L1130.6,705.0 L1131.2,706.9 L1131.8,708.8 L1132.3,710.7 L1132.9,712.7 L1133.5,714.6 L1134.1,716.5 L1134.6,718.4 L1135.2,720.3 L1135.8,722.2 L1136.3,724.1 L1136.9,726.0 L1137.4,727.9 L1138.0,729.8 L1138.5,731.8 L1139.1,733.7 L1139.6,735.6 L1140.2,737.5 L1140.7,739.4 L1141.2,741.3 L1141.8,743.3 L1142.3,745.2 L1142.8,747.1 L1143.3,749.0 L1143.9,751.0 L1144.4,752.9 L1144.9,754.8 L1145.4,756.7 L1145.9,758.7 L1146.4,760.6 L1146.9,762.5 L1147.4,764.5 L1147.9,766.4 L1148.4,768.3 L1148.9,770.3 L1149.4,772.2 L1149.9,774.1 L1150.4,776.1 L1150.9,778.0 L1151.3,779.9 L1151.8,781.9 L1152.3,783.8 L1152.8,785.7 L1153.2,787.7 L1153.7,789.6 L1154.2,791.6 L1154.6,793.5 L1155.1,795.4 L1155.6,797.4 L1156.0,799.3 L1156.5,801.3 L1157.0,803.2 L1157.4,805.2 L1157.9,807.1 L1158.3,809.1 L1158.8,811.0 L1159.2,813.0 L1159.7,814.9 L1160.1,816.8 L1160.6,818.8 L1161.0,820.7 L1161.4,822.7 L1161.9,824.6 L1162.3,826.6 L1162.8,828.5 L1163.2,830.5 L1163.6,832.4 L1164.1,834.4 L1164.5,836.3 L1164.9,838.3 L1165.3,840.2 L1165.8,842.2 L1166.2,844.1 L1166.6,846.1 L1167.1,848.1 L1167.5,850.0 L1167.9,852.0 L1168.3,853.9 L1168.8,855.9 L1169.2,857.8 L1169.6,859.8 L1170.0,861.7 L1170.4,863.7 L1170.9,865.6 L1171.3,867.6 L1171.7,869.5 L1172.1,871.5 L1172.5,873.4 L1172.9,875.4 L1173.4,877.4 L1173.8,879.3 L1174.2,881.3 L1174.6,883.2 L1175.0,885.2 L1175.4,887.1 L1175.8,889.1 L1176.3,891.0 L1176.7,893.0 L1177.1,894.9 L1177.5,896.9 L1177.9,898.8 L1178.3,900.8 L1178.7,902.8 L1179.1,904.7 L1179.6,906.7 L1180.0,908.6 L1180.4,910.6 L1180.8,912.5 L1181.2,914.5 L1181.6,916.4 L1182.0,918.4 L1182.5,920.3 L1182.9,922.3 L1183.3,924.2 L1183.7,926.2 L1184.1,928.1 L1184.5,930.1 L1185.0,932.0 L1185.4,934.0 L1185.8,935.9 L1186.2,937.9 L1186.6,939.8 L1187.1,941.8 L1187.5,943.7 L1187.9,945.6 L1188.3,947.6 L1188.8,949.5 L1189.2,951.5 L1189.6,953.4 L1190.1,955.4 L1190.5,957.3 L1190.9,959.3 L1191.4,961.2 L1191.8,963.2 L1192.3,965.1 L1192.7,967.1 L1193.2,969.0 L1193.6,971.0 L1194.1,972.9 L1194.5,974.9 L1195.0,976.8 L1195.4,978.8 L1195.9,980.7 L1196.4,982.7 L1196.8,984.6 L1197.3,986.6 L1197.8,988.5 L1198.3,990.5 L1198.7,992.4 L1199.2,994.4 L1199.7,996.3 L1200.2,998.3 L1200.7,1000.2 L1201.2,1002.2 L1201.7,1004.1 L1202.2,1006.1 L1202.7,1008.0 L1203.2,1010.0 L1203.7,1012.0 L1204.3,1013.9 L1204.8,1015.9 L1205.3,1017.8 L1205.8,1019.8 L1206.4,1021.7 L1206.9,1023.7 L1207.5,1025.6 L1208.0,1027.6 L1208.6,1029.6 L1209.1,1031.5 L1209.7,1033.5 L1210.3,1035.4 L1210.8,1037.4 L1211.4,1039.4 L1212.0,1041.3 L1212.6,1043.3 L1213.2,1045.3 L1213.8,1047.2 L1214.4,1049.2 L1215.1,1051.2 L1215.7,1053.1 L1216.4,1055.1 L1217.0,1057.0 L1217.7,1059.0 L1218.4,1060.9 L1219.1,1062.9 L1219.9,1064.8 L1220.6,1066.8 L1221.4,1068.7 L1222.2,1070.6 L1223.0,1072.5 L1223.8,1074.4 L1224.7,1076.3 L1225.6,1078.1 L1226.5,1080.0 L1227.5,1081.8 L1228.5,1083.7 L1229.5,1085.5 L1230.5,1087.3 L1231.6,1089.1 L1232.7,1090.8 L1233.8,1092.6 L1235.0,1094.3 L1236.2,1096.0 L1237.5,1097.6 L1238.8,1099.3 L1240.1,1100.9 L1241.5,1102.5 L1242.8,1104.0 L1244.3,1105.6 L1245.7,1107.1 L1247.2,1108.5 L1248.7,1110.0 L1250.3,1111.4 L1251.8,1112.7 L1253.4,1114.1 L1255.0,1115.4 L1256.7,1116.6 L1258.4,1117.9 L1260.1,1119.1 L1261.8,1120.3 L1263.6,1121.4 L1265.3,1122.5 L1267.1,1123.6 L1268.9,1124.6 L1270.7,1125.6 L1272.5,1126.6 L1274.3,1127.5 L1276.2,1128.5 L1278.0,1129.4 L1279.9,1130.3 L1281.7,1131.2 L1283.6,1132.0 L1285.4,1132.9 L1287.3,1133.7 L1289.2,1134.5 L1291.1,1135.3 L1292.9,1136.1 L1294.8,1136.9 L1296.7,1137.7 L1298.5,1138.5 L1300.4,1139.3 L1302.3,1140.1 L1304.1,1140.9 L1306.0,1141.6 L1307.9,1142.4 L1309.7,1143.2 L1311.6,1143.9 L1313.5,1144.7 L1315.4,1145.4 L1317.2,1146.2 L1319.1,1146.9 L1321.0,1147.7 L1322.9,1148.4 L1324.8,1149.2 L1326.6,1149.9 L1328.5,1150.6 L1330.4,1151.4 L1332.3,1152.1 L1334.2,1152.8 L1336.1,1153.5 L1337.9,1154.3 L1339.8,1155.0 L1341.7,1155.7 L1343.6,1156.4 L1345.5,1157.1 L1347.4,1157.8 L1349.3,1158.5 L1351.2,1159.1 L1353.1,1159.8 L1355.0,1160.5 L1356.9,1161.2 L1358.8,1161.9 L1360.7,1162.5 L1362.6,1163.2 L1364.5,1163.9 L1366.4,1164.5 L1368.3,1165.2 L1370.2,1165.8 L1372.1,1166.5 L1374.0,1167.1 L1376.0,1167.7 L1377.9,1168.4 L1379.8,1169.0 L1381.7,1169.6 L1383.6,1170.3 L1385.5,1170.9 L1387.4,1171.5 L1389.4,1172.1 L1391.3,1172.7 L1393.2,1173.3 L1395.1,1173.9 L1397.0,1174.5 L1399.0,1175.1 L1400.9,1175.7 L1402.8,1176.2 L1404.7,1176.8 L1406.7,1177.4 L1408.6,1177.9 L1410.5,1178.5 L1412.5,1179.1 L1414.4,1179.6 L1416.3,1180.2 L1418.3,1180.7 L1420.2,1181.2 L1422.1,1181.8 L1424.1,1182.3 L1426.0,1182.8 L1428.0,1183.3 L1429.9,1183.9 L1431.8,1184.4 L1433.8,1184.9 L1435.7,1185.4 L1437.7,1185.9 L1439.6,1186.4 L1441.6,1186.8 L1443.5,1187.3 L1445.5,1187.8 L1447.4,1188.3 L1449.4,1188.7 L1451.3,1189.2 L1453.3,1189.7 L1455.3,1190.1 L1457.2,1190.6 L1459.2,1191.0 L1461.1,1191.4 L1463.1,1191.9 L1465.0,1192.3 L1467.0,1192.7 L1469.0,1193.1 L1470.9,1193.6 L1472.9,1194.0 L1474.9,1194.4 L1476.8,1194.8 L1478.8,1195.2 L1480.8,1195.6 L1482.7,1195.9 L1484.7,1196.3 L1486.7,1196.7 L1488.7,1197.1 L1490.6,1197.4 L1492.6,1197.8 L1494.6,1198.2 L1496.5,1198.5 L1498.5,1198.9 L1500.5,1199.2 L1502.5,1199.6 L1504.4,1199.9 L1506.4,1200.2 L1508.4,1200.6 L1510.4,1200.9 L1512.4,1201.2 L1514.3,1201.5 L1516.3,1201.8 L1518.3,1202.2 L1520.3,1202.5 L1522.3,1202.8 L1524.2,1203.1 L1526.2,1203.4 L1528.2,1203.7 L1530.2,1204.0 L1532.2,1204.3 L1534.2,1204.5 L1536.2,1204.8 L1538.1,1205.1 L1540.1,1205.4 L1542.1,1205.6 L1544.1,1205.9 L1546.1,1206.2 L1548.1,1206.4 L1550.1,1206.7 L1552.1,1207.0 L1554.1,1207.2 L1556.0,1207.5 L1558.0,1207.7 L1560.0,1208.0 L1562.0,1208.2 L1564.0,1208.5 L1566.0,1208.7 L1568.0,1208.9 L1570.0,1209.2 L1572.0,1209.4 L1574.0,1209.7 L1576.0,1209.9 L1578.0,1210.1 L1579.9,1210.3 L1581.9,1210.6 L1583.9,1210.8 L1585.9,1211.0 L1587.9,1211.2 L1589.9,1211.4 L1591.9,1211.6 L1593.9,1211.9 L1595.9,1212.1 L1597.9,1212.3 L1599.9,1212.5 L1601.9,1212.7 L1603.9,1212.9 L1605.9,1213.1 L1607.9,1213.3 L1609.9,1213.5 L1611.9,1213.7 L1613.9,1213.9 L1615.9,1214.1 L1617.9,1214.3 L1619.8,1214.5 L1621.8,1214.7 L1623.8,1214.9 L1625.8,1215.1 L1627.8,1215.3 L1629.8,1215.5 L1631.8,1215.6 L1633.8,1215.8 L1635.8,1216.0 L1637.8,1216.2 L1639.8,1216.4 L1641.8,1216.6 L1643.8,1216.8 L1645.8,1217.0 L1647.8,1217.1 L1649.8,1217.3 L1651.8,1217.5 L1653.8,1217.7 L1655.8,1217.9 L1657.8,1218.1 L1659.8,1218.2 L1661.7,1218.4 L1663.7,1218.6 L1665.7,1218.8 L1667.7,1219.0 L1669.7,1219.1 L1671.7,1219.3 L1673.7,1219.5 L1675.7,1219.7 L1677.7,1219.8 L1679.7,1220.0 L1681.7,1220.2 L1683.7,1220.4 L1685.7,1220.6 L1687.7,1220.7 L1689.7,1220.9 L1691.7,1221.1 L1693.7,1221.2 L1695.7,1221.4 L1697.7,1221.6 L1699.7,1221.8 L1701.6,1221.9 L1703.6,1222.1 L1705.6,1222.3 L1707.6,1222.4 L1709.6,1222.6 L1711.6,1222.8 L1713.6,1222.9 L1715.6,1223.1 L1717.6,1223.3 L1719.6,1223.4 L1721.6,1223.6 L1723.6,1223.8 L1725.6,1223.9 L1727.6,1224.1 L1729.6,1224.3 L1731.6,1224.4 L1733.6,1224.6 L1735.6,1224.7 L1737.6,1224.9 L1739.6,1225.1 L1741.6,1225.2 L1743.6,1225.4 L1745.5,1225.5 L1747.5,1225.7 L1749.5,1225.8 L1751.5,1226.0 L1753.5,1226.1 L1755.5,1226.3 L1757.5,1226.5 L1759.5,1226.6 L1761.5,1226.8 L1763.5,1226.9 L1765.5,1227.1 L1767.5,1227.2 L1769.5,1227.4 L1771.5,1227.5 L1773.5,1227.7 L1775.5,1227.8 L1777.5,1228.0 L1779.5,1228.1 L1781.5,1228.3 L1783.5,1228.4 L1785.5,1228.5 L1787.5,1228.7 L1789.5,1228.8 L1791.5,1229.0 L1793.5,1229.1 L1795.4,1229.3 L1797.4,1229.4 L1799.4,1229.5 L1801.4,1229.7 L1803.4,1229.8 L1805.4,1230.0 L1807.4,1230.1 L1809.4,1230.2 L1811.4,1230.4 L1813.4,1230.5 L1815.4,1230.6 L1817.4,1230.8 L1819.4,1230.9 L1821.4,1231.0 L1823.4,1231.2 L1825.4,1231.3 L1827.4,1231.4 L1829.4,1231.6 L1831.4,1231.7 L1833.4,1231.8 L1835.4,1232.0 L1837.4,1232.1 L1839.4,1232.2 L1841.4,1232.3 L1843.4,1232.5 L1845.4,1232.6 L1847.4,1232.7 L1849.4,1232.8 L1851.4,1233.0 L1853.4,1233.1 L1855.3,1233.2 L1857.3,1233.3 L1859.3,1233.4 L1861.3,1233.6 L1863.3,1233.7 L1865.3,1233.8 L1867.3,1233.9 L1869.3,1234.0 L1871.3,1234.1 L1873.3,1234.3 L1875.3,1234.4 L1877.3,1234.5 L1879.3,1234.6 L1881.3,1234.7 L1883.3,1234.8 L1885.3,1234.9 L1887.3,1235.0 L1889.3,1235.2 L1891.3,1235.3 L1893.3,1235.4 L1895.3,1235.5 L1897.3,1235.6 L1899.3,1235.7 L1901.3,1235.8 L1903.3,1235.9 L1905.3,1236.0 L1907.3,1236.1 L1909.3,1236.2 L1911.3,1236.3 L1913.3,1236.4 L1915.3,1236.5 L1917.3,1236.6 L1919.3,1236.7 L1921.3,1236.8 L1923.3,1236.9 L1925.3,1237.0 L1927.3,1237.1 L1929.3,1237.2 L1931.3,1237.3 L1933.3,1237.4 L1935.3,1237.5 L1937.3,1237.6 L1939.3,1237.7 L1941.3,1237.8 L1943.3,1237.8 L1945.3,1237.9 L1947.3,1238.0 L1949.3,1238.1 L1951.3,1238.2 L1953.3,1238.3 L1955.3,1238.4 L1957.3,1238.4 L1959.3,1238.5 L1961.3,1238.6 L1963.3,1238.7 L1965.3,1238.8 L1967.2,1238.9 L1969.2,1238.9 L1971.2,1239.0 L1973.2,1239.1 L1975.2,1239.2 L1977.2,1239.2 L1979.2,1239.3 L1981.2,1239.4 L1983.2,1239.5 L1985.2,1239.5 L1987.2,1239.6 L1989.2,1239.7 L1991.2,1239.8 L1993.2,1239.8 L1995.2,1239.9 L1997.2,1240.0 L1999.2,1240.0 L2001.2,1240.1 L2003.2,1240.2 L2005.2,1240.2 L2007.2,1240.3 L2009.2,1240.4 L2011.2,1240.4 L2013.2,1240.5 L2015.2,1240.5 L2017.3,1240.6 L2019.3,1240.7 L2021.3,1240.7 L2023.3,1240.8 L2025.3,1240.8 L2027.3,1240.9 L2029.3,1240.9 L2031.3,1241.0 L2033.3,1241.1 L2035.3,1241.1 L2037.3,1241.2 L2039.3,1241.2 L2041.3,1241.3 L2043.3,1241.3 L2045.3,1241.4 L2047.3,1241.4 L2049.3,1241.5 L2051.3,1241.5 L2053.3,1241.5 L2055.3,1241.6 L2057.3,1241.6 L2059.3,1241.7 L2061.3,1241.7 L2063.3,1241.8 L2065.3,1241.8 L2067.3,1241.8 L2069.3,1241.9 L2071.3,1241.9 L2073.3,1241.9 L2075.3,1242.0 L2077.3,1242.0 L2079.3,1242.0 L2081.3,1242.1 L2083.3,1242.1 L2085.3,1242.1 L2087.3,1242.2 L2089.3,1242.2 L2091.3,1242.2 L2093.3,1242.3 L2095.3,1242.3 L2097.3,1242.3 L2099.3,1242.3 L2101.3,1242.4 L2103.3,1242.4 L2105.3,1242.4 L2107.3,1242.4 L2109.3,1242.5 L2111.3,1242.5 L2113.3,1242.5 L2115.4,1242.5 L2117.4,1242.5 L2119.4,1242.5 L2121.4,1242.6 L2123.4,1242.6 L2125.4,1242.6 L2127.4,1242.6 L2129.4,1242.6 L2131.4,1242.6 L2133.4,1242.6 L2135.4,1242.6 L2137.4,1242.6 L2139.4,1242.6 L2141.4,1242.7 L2143.4,1242.7 L2145.4,1242.7 L2147.4,1242.7 L2149.4,1242.7 L2151.4,1242.7 L2153.4,1242.7 L2155.4,1242.7 L2157.4,1242.7 L2159.4,1242.7 L2161.5,1242.7 L2163.5,1242.7 L2165.5,1242.7 L2167.5,1242.6 L2169.5,1242.6 L2171.5,1242.6 L2173.5,1242.6 L2175.5,1242.6 L2177.5,1242.6 L2179.5,1242.6 L2181.5,1242.6 L2183.5,1242.6 L2185.5,1242.6 L2187.5,1242.5 L2189.5,1242.5 L2190.1,1242.5 L2190.0,1232.1 L2189.4,1232.1 L2187.4,1232.1 L2185.4,1232.2 L2183.4,1232.2 L2181.4,1232.2 L2179.4,1232.2 L2177.4,1232.2 L2175.4,1232.2 L2173.4,1232.2 L2171.4,1232.2 L2169.4,1232.2 L2167.4,1232.2 L2165.4,1232.3 L2163.4,1232.3 L2161.4,1232.3 L2159.4,1232.3 L2157.4,1232.3 L2155.4,1232.3 L2153.4,1232.3 L2151.4,1232.3 L2149.4,1232.3 L2147.4,1232.3 L2145.4,1232.3 L2143.4,1232.3 L2141.4,1232.3 L2139.4,1232.2 L2137.4,1232.2 L2135.4,1232.2 L2133.4,1232.2 L2131.4,1232.2 L2129.4,1232.2 L2127.4,1232.2 L2125.4,1232.2 L2123.4,1232.2 L2121.4,1232.2 L2119.4,1232.1 L2117.4,1232.1 L2115.4,1232.1 L2113.4,1232.1 L2111.4,1232.1 L2109.4,1232.1 L2107.4,1232.0 L2105.4,1232.0 L2103.5,1232.0 L2101.5,1232.0 L2099.5,1231.9 L2097.5,1231.9 L2095.5,1231.9 L2093.5,1231.9 L2091.5,1231.8 L2089.5,1231.8 L2087.5,1231.8 L2085.5,1231.7 L2083.5,1231.7 L2081.5,1231.7 L2079.5,1231.6 L2077.5,1231.6 L2075.5,1231.6 L2073.5,1231.5 L2071.5,1231.5 L2069.5,1231.5 L2067.5,1231.4 L2065.5,1231.4 L2063.5,1231.4 L2061.5,1231.3 L2059.5,1231.3 L2057.5,1231.2 L2055.5,1231.2 L2053.5,1231.1 L2051.5,1231.1 L2049.5,1231.1 L2047.5,1231.0 L2045.5,1231.0 L2043.5,1230.9 L2041.5,1230.9 L2039.5,1230.8 L2037.5,1230.8 L2035.5,1230.7 L2033.5,1230.7 L2031.5,1230.6 L2029.5,1230.5 L2027.5,1230.5 L2025.5,1230.4 L2023.6,1230.4 L2021.6,1230.3 L2019.6,1230.3 L2017.6,1230.2 L2015.6,1230.1 L2013.6,1230.1 L2011.6,1230.0 L2009.6,1230.0 L2007.6,1229.9 L2005.6,1229.8 L2003.6,1229.8 L2001.6,1229.7 L1999.6,1229.6 L1997.6,1229.6 L1995.6,1229.5 L1993.6,1229.4 L1991.6,1229.4 L1989.6,1229.3 L1987.6,1229.2 L1985.6,1229.1 L1983.6,1229.1 L1981.6,1229.0 L1979.6,1228.9 L1977.6,1228.8 L1975.6,1228.8 L1973.7,1228.7 L1971.7,1228.6 L1969.7,1228.5 L1967.7,1228.5 L1965.7,1228.4 L1963.7,1228.3 L1961.7,1228.2 L1959.7,1228.1 L1957.7,1228.0 L1955.7,1228.0 L1953.7,1227.9 L1951.7,1227.8 L1949.7,1227.7 L1947.7,1227.6 L1945.7,1227.5 L1943.7,1227.4 L1941.7,1227.4 L1939.7,1227.3 L1937.7,1227.2 L1935.7,1227.1 L1933.8,1227.0 L1931.8,1226.9 L1929.8,1226.8 L1927.8,1226.7 L1925.8,1226.6 L1923.8,1226.5 L1921.8,1226.4 L1919.8,1226.3 L1917.8,1226.2 L1915.8,1226.1 L1913.8,1226.0 L1911.8,1225.9 L1909.8,1225.8 L1907.8,1225.7 L1905.8,1225.6 L1903.8,1225.5 L1901.8,1225.4 L1899.8,1225.3 L1897.9,1225.2 L1895.9,1225.1 L1893.9,1225.0 L1891.9,1224.9 L1889.9,1224.8 L1887.9,1224.7 L1885.9,1224.5 L1883.9,1224.4 L1881.9,1224.3 L1879.9,1224.2 L1877.9,1224.1 L1875.9,1224.0 L1873.9,1223.9 L1871.9,1223.8 L1869.9,1223.6 L1867.9,1223.5 L1865.9,1223.4 L1864.0,1223.3 L1862.0,1223.2 L1860.0,1223.0 L1858.0,1222.9 L1856.0,1222.8 L1854.0,1222.7 L1852.0,1222.6 L1850.0,1222.4 L1848.0,1222.3 L1846.0,1222.2 L1844.0,1222.1 L1842.0,1221.9 L1840.0,1221.8 L1838.0,1221.7 L1836.0,1221.6 L1834.1,1221.4 L1832.1,1221.3 L1830.1,1221.2 L1828.1,1221.0 L1826.1,1220.9 L1824.1,1220.8 L1822.1,1220.6 L1820.1,1220.5 L1818.1,1220.4 L1816.1,1220.2 L1814.1,1220.1 L1812.1,1220.0 L1810.1,1219.8 L1808.1,1219.7 L1806.1,1219.6 L1804.2,1219.4 L1802.2,1219.3 L1800.2,1219.1 L1798.2,1219.0 L1796.2,1218.9 L1794.2,1218.7 L1792.2,1218.6 L1790.2,1218.4 L1788.2,1218.3 L1786.2,1218.1 L1784.2,1218.0 L1782.2,1217.9 L1780.2,1217.7 L1778.2,1217.6 L1776.3,1217.4 L1774.3,1217.3 L1772.3,1217.1 L1770.3,1217.0 L1768.3,1216.8 L1766.3,1216.7 L1764.3,1216.5 L1762.3,1216.4 L1760.3,1216.2 L1758.3,1216.1 L1756.3,1215.9 L1754.3,1215.8 L1752.3,1215.6 L1750.4,1215.4 L1748.4,1215.3 L1746.4,1215.1 L1744.4,1215.0 L1742.4,1214.8 L1740.4,1214.7 L1738.4,1214.5 L1736.4,1214.3 L1734.4,1214.2 L1732.4,1214.0 L1730.4,1213.9 L1728.4,1213.7 L1726.4,1213.5 L1724.5,1213.4 L1722.5,1213.2 L1720.5,1213.0 L1718.5,1212.9 L1716.5,1212.7 L1714.5,1212.5 L1712.5,1212.4 L1710.5,1212.2 L1708.5,1212.0 L1706.5,1211.9 L1704.5,1211.7 L1702.5,1211.5 L1700.5,1211.4 L1698.5,1211.2 L1696.6,1211.0 L1694.6,1210.9 L1692.6,1210.7 L1690.6,1210.5 L1688.6,1210.3 L1686.6,1210.2 L1684.6,1210.0 L1682.6,1209.8 L1680.6,1209.6 L1678.6,1209.5 L1676.6,1209.3 L1674.6,1209.1 L1672.7,1208.9 L1670.7,1208.7 L1668.7,1208.6 L1666.7,1208.4 L1664.7,1208.2 L1662.7,1208.0 L1660.7,1207.8 L1658.7,1207.7 L1656.7,1207.5 L1654.7,1207.3 L1652.7,1207.1 L1650.7,1206.9 L1648.7,1206.7 L1646.8,1206.6 L1644.8,1206.4 L1642.8,1206.2 L1640.8,1206.0 L1638.8,1205.8 L1636.8,1205.6 L1634.8,1205.4 L1632.8,1205.3 L1630.8,1205.1 L1628.8,1204.9 L1626.8,1204.7 L1624.8,1204.5 L1622.9,1204.3 L1620.9,1204.1 L1618.9,1203.9 L1616.9,1203.7 L1614.9,1203.5 L1612.9,1203.3 L1610.9,1203.1 L1608.9,1202.9 L1606.9,1202.7 L1604.9,1202.5 L1603.0,1202.3 L1601.0,1202.1 L1599.0,1201.9 L1597.0,1201.7 L1595.0,1201.5 L1593.0,1201.3 L1591.0,1201.0 L1589.1,1200.8 L1587.1,1200.6 L1585.1,1200.4 L1583.1,1200.2 L1581.1,1199.9 L1579.1,1199.7 L1577.2,1199.5 L1575.2,1199.3 L1573.2,1199.0 L1571.2,1198.8 L1569.2,1198.6 L1567.2,1198.3 L1565.3,1198.1 L1563.3,1197.8 L1561.3,1197.6 L1559.3,1197.3 L1557.4,1197.1 L1555.4,1196.8 L1553.4,1196.6 L1551.4,1196.3 L1549.5,1196.1 L1547.5,1195.8 L1545.5,1195.5 L1543.5,1195.3 L1541.6,1195.0 L1539.6,1194.7 L1537.6,1194.4 L1535.7,1194.2 L1533.7,1193.9 L1531.7,1193.6 L1529.8,1193.3 L1527.8,1193.0 L1525.8,1192.7 L1523.9,1192.4 L1521.9,1192.1 L1519.9,1191.8 L1518.0,1191.5 L1516.0,1191.2 L1514.1,1190.8 L1512.1,1190.5 L1510.1,1190.2 L1508.2,1189.9 L1506.2,1189.5 L1504.3,1189.2 L1502.3,1188.8 L1500.4,1188.5 L1498.4,1188.1 L1496.5,1187.8 L1494.5,1187.4 L1492.6,1187.1 L1490.6,1186.7 L1488.7,1186.3 L1486.7,1186.0 L1484.8,1185.6 L1482.8,1185.2 L1480.9,1184.8 L1478.9,1184.4 L1477.0,1184.0 L1475.1,1183.6 L1473.1,1183.2 L1471.2,1182.8 L1469.2,1182.4 L1467.3,1182.0 L1465.4,1181.5 L1463.4,1181.1 L1461.5,1180.7 L1459.6,1180.2 L1457.6,1179.8 L1455.7,1179.3 L1453.8,1178.9 L1451.9,1178.4 L1449.9,1177.9 L1448.0,1177.5 L1446.1,1177.0 L1444.2,1176.5 L1442.2,1176.0 L1440.3,1175.5 L1438.4,1175.1 L1436.5,1174.6 L1434.6,1174.1 L1432.6,1173.5 L1430.7,1173.0 L1428.8,1172.5 L1426.9,1172.0 L1425.0,1171.5 L1423.1,1170.9 L1421.2,1170.4 L1419.2,1169.9 L1417.3,1169.3 L1415.4,1168.8 L1413.5,1168.2 L1411.6,1167.7 L1409.7,1167.1 L1407.8,1166.5 L1405.9,1166.0 L1404.0,1165.4 L1402.1,1164.8 L1400.2,1164.2 L1398.3,1163.6 L1396.4,1163.0 L1394.5,1162.4 L1392.6,1161.8 L1390.7,1161.2 L1388.8,1160.6 L1386.9,1160.0 L1385.0,1159.4 L1383.1,1158.8 L1381.3,1158.1 L1379.4,1157.5 L1377.5,1156.9 L1375.6,1156.2 L1373.7,1155.6 L1371.8,1154.9 L1369.9,1154.3 L1368.1,1153.6 L1366.2,1153.0 L1364.3,1152.3 L1362.4,1151.7 L1360.5,1151.0 L1358.7,1150.3 L1356.8,1149.6 L1354.9,1148.9 L1353.0,1148.3 L1351.2,1147.6 L1349.3,1146.9 L1347.4,1146.2 L1345.5,1145.5 L1343.7,1144.8 L1341.8,1144.1 L1339.9,1143.4 L1338.1,1142.6 L1336.2,1141.9 L1334.3,1141.2 L1332.5,1140.5 L1330.6,1139.8 L1328.7,1139.0 L1326.9,1138.3 L1325.0,1137.5 L1323.2,1136.8 L1321.3,1136.1 L1319.5,1135.3 L1317.6,1134.6 L1315.7,1133.8 L1313.9,1133.0 L1312.0,1132.3 L1310.2,1131.5 L1308.3,1130.7 L1306.5,1130.0 L1304.6,1129.2 L1302.8,1128.4 L1300.9,1127.6 L1299.1,1126.8 L1297.3,1126.1 L1295.4,1125.3 L1293.6,1124.5 L1291.8,1123.6 L1290.0,1122.8 L1288.2,1122.0 L1286.4,1121.2 L1284.7,1120.3 L1282.9,1119.5 L1281.2,1118.6 L1279.5,1117.7 L1277.8,1116.8 L1276.2,1115.8 L1274.5,1114.9 L1272.9,1113.9 L1271.3,1112.9 L1269.7,1111.9 L1268.1,1110.8 L1266.6,1109.8 L1265.1,1108.7 L1263.6,1107.6 L1262.2,1106.4 L1260.7,1105.2 L1259.3,1104.0 L1257.9,1102.8 L1256.5,1101.5 L1255.2,1100.3 L1253.9,1099.0 L1252.6,1097.6 L1251.3,1096.3 L1250.1,1094.9 L1248.9,1093.5 L1247.7,1092.1 L1246.5,1090.6 L1245.4,1089.2 L1244.3,1087.7 L1243.2,1086.1 L1242.2,1084.6 L1241.1,1083.0 L1240.1,1081.5 L1239.2,1079.9 L1238.2,1078.2 L1237.3,1076.6 L1236.4,1074.9 L1235.5,1073.2 L1234.7,1071.5 L1233.9,1069.8 L1233.1,1068.0 L1232.3,1066.3 L1231.5,1064.5 L1230.8,1062.7 L1230.0,1060.9 L1229.3,1059.0 L1228.6,1057.2 L1227.9,1055.3 L1227.2,1053.5 L1226.6,1051.6 L1225.9,1049.7 L1225.3,1047.8 L1224.7,1045.9 L1224.1,1044.0 L1223.5,1042.1 L1222.9,1040.2 L1222.3,1038.2 L1221.7,1036.3 L1221.1,1034.4 L1220.6,1032.4 L1220.0,1030.5 L1219.4,1028.6 L1218.9,1026.6 L1218.3,1024.7 L1217.8,1022.7 L1217.2,1020.8 L1216.7,1018.9 L1216.1,1016.9 L1215.6,1015.0 L1215.1,1013.1 L1214.6,1011.1 L1214.0,1009.2 L1213.5,1007.3 L1213.0,1005.3 L1212.5,1003.4 L1212.0,1001.5 L1211.5,999.5 L1211.0,997.6 L1210.5,995.7 L1210.0,993.7 L1209.5,991.8 L1209.1,989.9 L1208.6,987.9 L1208.1,986.0 L1207.6,984.1 L1207.2,982.1 L1206.7,980.2 L1206.2,978.3 L1205.8,976.3 L1205.3,974.4 L1204.9,972.4 L1204.4,970.5 L1203.9,968.6 L1203.5,966.6 L1203.0,964.7 L1202.6,962.8 L1202.2,960.8 L1201.7,958.9 L1201.3,957.0 L1200.8,955.0 L1200.4,953.1 L1200.0,951.1 L1199.5,949.2 L1199.1,947.3 L1198.7,945.3 L1198.3,943.4 L1197.8,941.4 L1197.4,939.5 L1197.0,937.6 L1196.6,935.6 L1196.1,933.7 L1195.7,931.7 L1195.3,929.8 L1194.9,927.8 L1194.5,925.9 L1194.0,923.9 L1193.6,922.0 L1193.2,920.1 L1192.8,918.1 L1192.4,916.2 L1192.0,914.2 L1191.6,912.3 L1191.1,910.3 L1190.7,908.4 L1190.3,906.4 L1189.9,904.5 L1189.5,902.5 L1189.1,900.6 L1188.7,898.6 L1188.3,896.7 L1187.8,894.7 L1187.4,892.8 L1187.0,890.8 L1186.6,888.8 L1186.2,886.9 L1185.8,884.9 L1185.4,883.0 L1184.9,881.0 L1184.5,879.1 L1184.1,877.1 L1183.7,875.2 L1183.3,873.2 L1182.9,871.2 L1182.5,869.3 L1182.0,867.3 L1181.6,865.4 L1181.2,863.4 L1180.8,861.5 L1180.4,859.5 L1179.9,857.5 L1179.5,855.6 L1179.1,853.6 L1178.7,851.7 L1178.3,849.7 L1177.8,847.8 L1177.4,845.8 L1177.0,843.8 L1176.6,841.9 L1176.1,839.9 L1175.7,838.0 L1175.3,836.0 L1174.8,834.1 L1174.4,832.1 L1174.0,830.1 L1173.5,828.2 L1173.1,826.2 L1172.7,824.3 L1172.2,822.3 L1171.8,820.4 L1171.3,818.4 L1170.9,816.4 L1170.4,814.5 L1170.0,812.5 L1169.6,810.6 L1169.1,808.6 L1168.7,806.7 L1168.2,804.7 L1167.7,802.8 L1167.3,800.8 L1166.8,798.8 L1166.4,796.9 L1165.9,794.9 L1165.4,793.0 L1165.0,791.0 L1164.5,789.1 L1164.0,787.1 L1163.6,785.2 L1163.1,783.2 L1162.6,781.3 L1162.1,779.3 L1161.7,777.4 L1161.2,775.4 L1160.7,773.5 L1160.2,771.5 L1159.7,769.6 L1159.2,767.6 L1158.7,765.7 L1158.2,763.7 L1157.7,761.8 L1157.2,759.9 L1156.7,757.9 L1156.2,756.0 L1155.7,754.0 L1155.2,752.1 L1154.7,750.1 L1154.2,748.2 L1153.6,746.3 L1153.1,744.3 L1152.6,742.4 L1152.1,740.4 L1151.5,738.5 L1151.0,736.6 L1150.5,734.6 L1149.9,732.7 L1149.4,730.8 L1148.8,728.8 L1148.3,726.9 L1147.7,725.0 L1147.2,723.0 L1146.6,721.1 L1146.0,719.2 L1145.5,717.3 L1144.9,715.3 L1144.3,713.4 L1143.8,711.5 L1143.2,709.6 L1142.6,707.6 L1142.0,705.7 L1141.4,703.8 L1140.9,701.9 L1140.3,700.0 L1139.7,698.0 L1139.1,696.1 L1138.5,694.2 L1137.9,692.3 L1137.3,690.4 L1136.7,688.5 L1136.0,686.5 L1135.4,684.6 L1134.8,682.7 L1134.2,680.8 L1133.6,678.9 L1133.0,677.0 L1132.3,675.1 L1131.7,673.2 L1131.1,671.3 L1130.5,669.4 L1129.8,667.5 L1129.2,665.6 L1128.6,663.7 L1127.9,661.8 L1127.3,659.9 L1126.6,658.0 L1126.0,656.1 L1125.3,654.2 L1124.7,652.3 L1124.0,650.4 L1123.4,648.5 L1122.7,646.6 L1122.1,644.7 L1121.4,642.8 L1120.8,640.9 L1120.1,639.0 L1119.4,637.1 L1118.8,635.2 L1118.1,633.3 L1117.4,631.4 L1116.8,629.6 L1116.1,627.7 L1115.4,625.8 L1114.8,623.9 L1114.1,622.0 L1113.4,620.1 L1112.7,618.2 L1112.0,616.3 L1111.4,614.5 L1110.7,612.6 L1110.0,610.7 L1109.3,608.8 L1108.6,606.9 L1107.9,605.0 L1107.3,603.2 L1106.6,601.3 L1105.9,599.4 L1105.2,597.5 L1104.5,595.6 L1103.8,593.8 L1103.1,591.9 L1102.4,590.0 L1101.7,588.1 L1101.0,586.2 L1100.3,584.4 L1099.6,582.5 L1098.9,580.6 L1098.2,578.7 L1097.5,576.9 L1096.8,575.0 L1096.1,573.1 L1095.4,571.2 L1094.7,569.4 L1094.0,567.5 L1093.3,565.6 L1092.6,563.7 L1091.9,561.9 L1091.2,560.0 L1090.5,558.1 L1089.8,556.3 L1089.1,554.4 L1088.4,552.5 L1087.7,550.6 L1087.0,548.8 L1086.3,546.9 L1085.6,545.0 L1084.9,543.2 L1084.2,541.3 L1083.5,539.4 L1082.8,537.6 L1082.1,535.7 L1081.4,533.8 L1080.7,531.9 L1080.0,530.1 L1079.3,528.2 L1078.6,526.3 L1077.9,524.5 L1077.2,522.6 L1076.5,520.7 L1075.8,518.9 L1075.1,517.0 L1074.4,515.1 L1073.7,513.3 L1073.0,511.4 L1072.2,509.5 L1071.5,507.7 L1070.8,505.8 L1070.1,503.9 L1069.4,502.0 L1068.7,500.2 L1068.0,498.3 L1067.3,496.4 L1066.6,494.6 L1065.9,492.7 L1065.2,490.8 L1064.5,489.0 L1063.8,487.1 L1063.1,485.2 L1062.4,483.4 L1061.7,481.5 L1061.0,479.6 L1060.3,477.8 L1059.6,475.9 L1058.8,474.0 L1058.1,472.2 L1057.4,470.3 L1056.7,468.4 L1056.0,466.6 L1055.3,464.7 L1054.6,462.8 L1053.9,461.0 L1053.2,459.1 L1052.4,457.2 L1051.7,455.4 L1051.0,453.5 L1050.3,451.6 L1049.6,449.8 L1048.8,447.9 L1048.1,446.0 L1047.4,444.2 L1046.7,442.3 L1046.0,440.4 L1045.2,438.6 L1044.5,436.7 L1043.8,434.8 L1043.0,433.0 L1042.3,431.1 L1041.6,429.2 L1040.8,427.4 L1040.1,425.5 L1039.4,423.6 L1038.6,421.8 L1037.9,419.9 L1037.2,418.0 L1036.4,416.2 L1035.7,414.3 L1034.9,412.5 L1034.2,410.6 L1033.4,408.7 L1032.7,406.9 L1031.9,405.0 L1031.2,403.1 L1030.4,401.3 L1029.7,399.4 L1028.9,397.5 L1028.2,395.7 L1027.4,393.8 L1026.6,392.0 L1025.9,390.1 L1025.1,388.2 L1024.3,386.4 L1023.6,384.5 L1022.8,382.7 L1022.0,380.8 L1021.3,378.9 L1020.5,377.1 L1019.7,375.2 L1018.9,373.4 L1018.1,371.5 L1017.3,369.6 L1016.5,367.8 L1015.7,365.9 L1014.9,364.1 L1014.1,362.2 L1013.3,360.3 L1012.5,358.5 L1011.7,356.6 L1010.8,354.8 L1010.0,352.9 L1009.1,351.1 L1008.3,349.3 L1007.4,347.4 L1006.5,345.6 L1005.7,343.8 L1004.8,341.9 L1003.9,340.1 L1003.0,338.3 L1002.1,336.5 L1001.1,334.7 L1000.2,332.9 L999.3,331.1 L998.3,329.3 L997.3,327.5 L996.4,325.7 L995.4,323.9 L994.4,322.2 L993.4,320.4 L992.3,318.6 L991.3,316.9 L990.2,315.1 L989.2,313.4 L988.1,311.7 L987.0,310.0 L985.9,308.3 L984.8,306.6 L983.6,304.9 L982.5,303.2 L981.3,301.5 L980.1,299.8 L978.9,298.2 L977.7,296.5 L976.4,294.9 L975.2,293.3 L973.9,291.7 L972.6,290.1 L971.3,288.5 L969.9,286.9 L968.6,285.3 L967.2,283.8 L965.8,282.3 L964.4,280.7 L962.9,279.3 L961.4,277.8 L959.9,276.3 L958.4,274.9 L956.8,273.5 L955.2,272.1 L953.6,270.8 L952.0,269.5 L950.4,268.2 L948.7,266.9 L947.1,265.7 L945.4,264.5 L943.7,263.3 L942.0,262.1 L940.2,261.0 L938.5,259.9 L936.7,258.8 L935.0,257.7 L933.2,256.6 L931.4,255.6 L929.6,254.6 L927.8,253.6 L926.0,252.7 L924.2,251.8 L922.4,250.8 L920.5,249.9 L918.7,249.1 L916.8,248.2 L915.0,247.4 L913.1,246.6 L911.2,245.8 L909.4,245.0 L907.5,244.3 L905.6,243.5 L903.7,242.8 L901.8,242.1 L899.9,241.4 L897.9,240.7 L896.0,240.1 L894.1,239.5 L892.1,238.8 L890.2,238.2 L888.2,237.6 L886.3,237.1 L884.3,236.5 L882.4,236.0 L880.4,235.4 L878.4,234.9 L876.5,234.4 L874.5,233.9 L872.5,233.5 L870.5,233.0 L868.5,232.6 L866.5,232.1 L864.5,231.7 L862.5,231.3 L860.5,230.9 L858.5,230.5 L856.5,230.1 L854.5,229.8 L852.5,229.4 L850.5,229.1 L848.5,228.7 L846.5,228.4 L844.4,228.1 L842.4,227.8 L840.4,227.5 L838.4,227.2 L836.4,226.9 L834.3,226.6 L832.3,226.3 L830.3,226.1 L828.3,225.8 L826.2,225.6 L824.2,225.3 L822.2,225.1 L820.2,224.9 L818.2,224.7 L816.1,224.5 L814.1,224.2 L812.1,224.0 L810.1,223.8 L808.1,223.6 L806.0,223.4 L804.0,223.3 L802.0,223.1 L800.0,222.9 L798.0,222.7 L796.0,222.6 L793.9,222.4 L791.9,222.2 L789.9,222.1 L787.9,221.9 L785.9,221.8 L783.9,221.6 L781.9,221.5 L779.9,221.4 L777.9,221.2 L775.8,221.1 L773.8,221.0 L771.8,220.9 L769.8,220.7 L767.8,220.6 L765.8,220.5 L763.8,220.4 L761.8,220.3 L759.8,220.2 L757.8,220.1 L755.8,220.0 L753.8,219.9 L751.8,219.8 L749.8,219.7 L747.8,219.6 L745.8,219.5 L743.8,219.5 L741.8,219.4 L739.8,219.3 L737.8,219.2 L735.8,219.2 L733.8,219.1 L731.8,219.0 L729.8,218.9 L727.8,218.9 L725.8,218.8 L723.8,218.7 L721.8,218.7 L719.8,218.6 L717.8,218.5 L715.8,218.5 L713.8,218.4 L711.8,218.3 L709.8,218.3 L707.8,218.2 L705.8,218.2 L703.8,218.1 L701.8,218.0 L699.8,218.0 L697.8,217.9 L695.8,217.9 L693.9,217.8 L691.9,217.8 L689.9,217.7 L687.9,217.6 L685.9,217.6 L683.9,217.5 L681.9,217.5 L679.9,217.4 L677.9,217.3 L675.9,217.3 L673.9,217.2 L672.0,217.1 L670.0,217.1 L668.0,217.0 L666.0,216.9 L664.0,216.9 L662.0,216.8 L660.0,216.7 L658.0,216.7 L656.0,216.6 L654.1,216.5 L652.1,216.4 L650.1,216.3 L648.1,216.3 L646.1,216.2 L644.1,216.1 L642.1,216.0 L640.2,215.9 L638.2,215.8 L636.2,215.7 L634.2,215.6 L632.2,215.5 L630.2,215.4 L628.2,215.3 L626.3,215.2 L624.3,215.1 L622.3,214.9 L620.3,214.8 L618.3,214.7 L616.3,214.6 L614.4,214.4 L612.4,214.3 L610.4,214.2 L608.4,214.0 L606.4,213.9 L604.4,213.7 L602.5,213.6 L600.5,213.4 L598.5,213.2 L596.5,213.1 L594.5,212.9 L592.5,212.7 L590.6,212.5 L588.6,212.3 L586.6,212.2 L584.6,212.0 L582.6,211.8 L580.6,211.6 L578.7,211.3 L576.7,211.1 L574.7,210.9 L572.7,210.7 L570.7,210.4 L568.8,210.2 L566.8,210.0 L564.8,209.7 L562.8,209.4 L560.9,209.2 L558.9,208.9 L557.0,208.6 L555.1,208.2 L553.1,207.9 L551.2,207.5 L549.3,207.2 L547.5,206.8 L545.6,206.3 L543.7,205.9 L541.9,205.4 L540.0,204.9 L538.2,204.4 L536.4,203.8 L534.6,203.2 L532.9,202.6 L531.1,201.9 L529.4,201.2 L527.6,200.5 L525.9,199.7 L524.2,199.0 L522.4,198.2 L520.7,197.3 L519.0,196.5 L517.3,195.6 L515.6,194.7 L514.0,193.7 L512.3,192.8 L510.6,191.8 L508.9,190.8 L507.3,189.8 L505.6,188.8 L504.0,187.7 L502.3,186.7 L500.7,185.6 L499.1,184.5 L497.5,183.3 L495.8,182.2 L494.2,181.1 L492.6,179.9 L491.0,178.7 L489.4,177.6 L487.8,176.4 L486.2,175.2 L484.6,174.0 L483.0,172.8 L481.5,171.6 L479.9,170.3 L478.3,169.1 L476.7,167.9 L475.2,166.6 L473.6,165.4 L472.1,164.2 L470.5,162.9 L469.0,161.6 L467.4,160.4 L465.9,159.1 L464.4,157.9 L462.8,156.6 L461.3,155.3 L459.8,154.0 L458.3,152.7 L456.7,151.5 L455.2,150.2 L453.7,148.9 L452.2,147.6 L450.7,146.3 L449.2,145.0 L447.7,143.7 L446.2,142.4 L444.8,141.0 L443.3,139.7 L441.8,138.4 L440.3,137.1 L438.8,135.7 L437.4,134.4 L435.9,133.1 L434.4,131.8 L433.0,130.4 L431.5,129.1 L430.0,127.7 L428.6,126.4 L427.1,125.0 L425.7,123.7 L424.2,122.3 L422.7,121.0 L421.3,119.6 L419.8,118.3 L418.4,116.9 L417.0,115.6 L415.5,114.2 L414.1,112.8 L412.6,111.5 L411.2,110.1 L409.7,108.7 L408.3,107.4Z"/>
<text transform="translate(308.00,144.00) scale(1,1.04)" text-anchor="start" font-size="85.6px" clip-path="url(#one-end-3)" ><tspan x="-139.82">1</tspan><tspan x="-95.21">00</tspan></text>
<text transform="translate(308.00,280.80) scale(1,1.04)" text-anchor="start" font-size="85.6px" ><tspan x="-95.21">90</tspan></text>
<text transform="translate(308.00,417.60) scale(1,1.04)" text-anchor="start" font-size="85.6px" ><tspan x="-95.21">80</tspan></text>
<text transform="translate(308.00,554.40) scale(1,1.04)" text-anchor="start" font-size="85.6px" ><tspan x="-95.21">70</tspan></text>
<text transform="translate(308.00,691.20) scale(1,1.04)" text-anchor="start" font-size="85.6px" ><tspan x="-95.21">60</tspan></text>
<text transform="translate(308.00,828.00) scale(1,1.04)" text-anchor="start" font-size="85.6px" ><tspan x="-95.21">50</tspan></text>
<text transform="translate(308.00,964.80) scale(1,1.04)" text-anchor="start" font-size="85.6px" ><tspan x="-95.21">40</tspan></text>
<text transform="translate(308.00,1101.60) scale(1,1.04)" text-anchor="start" font-size="85.6px" ><tspan x="-95.21">30</tspan></text>
<text transform="translate(308.00,1238.40) scale(1,1.04)" text-anchor="start" font-size="85.6px" ><tspan x="-95.21">20</tspan></text>
<text transform="translate(308.00,1375.20) scale(1,1.04)" text-anchor="start" font-size="85.6px" clip-path="url(#one-end-2)" ><tspan x="-92.21">1</tspan><tspan x="-47.61">0</tspan></text>
<text transform="translate(308.00,1512.00) scale(1,1.04)" text-anchor="start" font-size="85.6px" ><tspan x="-47.61">0</tspan></text>
<text transform="translate(351.00,1597.40) scale(1,1.04)" text-anchor="start" font-size="85.6px" ><tspan x="-23.80">0</tspan></text>
<text transform="translate(582.75,1597.40) scale(1,1.04)" text-anchor="start" font-size="85.6px" clip-path="url(#one-middle-3)" ><tspan x="-68.41">1</tspan><tspan x="-23.80">00</tspan></text>
<text transform="translate(814.50,1597.40) scale(1,1.04)" text-anchor="start" font-size="85.6px" ><tspan x="-71.41">200</tspan></text>
<text transform="translate(1046.25,1597.40) scale(1,1.04)" text-anchor="start" font-size="85.6px" ><tspan x="-71.41">300</tspan></text>
<text transform="translate(1278.00,1597.40) scale(1,1.04)" text-anchor="start" font-size="85.6px" ><tspan x="-71.41">400</tspan></text>
<text transform="translate(1509.75,1597.40) scale(1,1.04)" text-anchor="start" font-size="85.6px" ><tspan x="-71.41">500</tspan></text>
<text transform="translate(1741.50,1597.40) scale(1,1.04)" text-anchor="start" font-size="85.6px" ><tspan x="-71.41">600</tspan></text>
<text transform="translate(1973.25,1597.40) scale(1,1.04)" text-anchor="start" font-size="85.6px" ><tspan x="-71.41">700</tspan></text>
<text transform="translate(2205.00,1597.40) scale(1,1.04)" text-anchor="start" font-size="85.6px" ><tspan x="-71.41">800</tspan></text>
<text transform="translate(943.6,1720.3) scale(1,1.02)" font-size="85.6px">T<tspan dx="-1.4">emperature </tspan><tspan dx="-3.4">(</tspan><tspan x="537.40" y="-36.14" font-family="'Liberation Serif', 'Times New Roman', serif" font-size="76.2px" textLength="43.53" lengthAdjust="spacingAndGlyphs">o</tspan><tspan x="580.10" y="0">C)</tspan></text>
<text transform="translate(129.7,1169.6) rotate(-90) scale(1,1.02)" font-size="85.6px">Weight Loss (%)</text>
<rect x="1761" y="110.1" width="433.8" height="310.5" fill="#fff" stroke="#000" stroke-width="2.4"/>
<line x1="1770" y1="169" x2="1920.4" y2="169" stroke="#000" stroke-width="10.3"/>
<text transform="translate(1938.70,192.00) scale(1,1.04)" text-anchor="start" font-size="85.6px" >CS</text>
<line x1="1770" y1="274" x2="1920.4" y2="274" stroke="#f00" stroke-width="10.3"/>
<text transform="translate(1943.40,297.00) scale(1,1.04)" text-anchor="start" font-size="85.6px" >CSOA</text>
<line x1="1770" y1="379" x2="1920.4" y2="379" stroke="#00f" stroke-width="10.3"/>
<text transform="translate(1943.90,402.00) scale(1,1.04)" text-anchor="start" font-size="85.6px" >SCOU</text>
</svg>
</body></html>
